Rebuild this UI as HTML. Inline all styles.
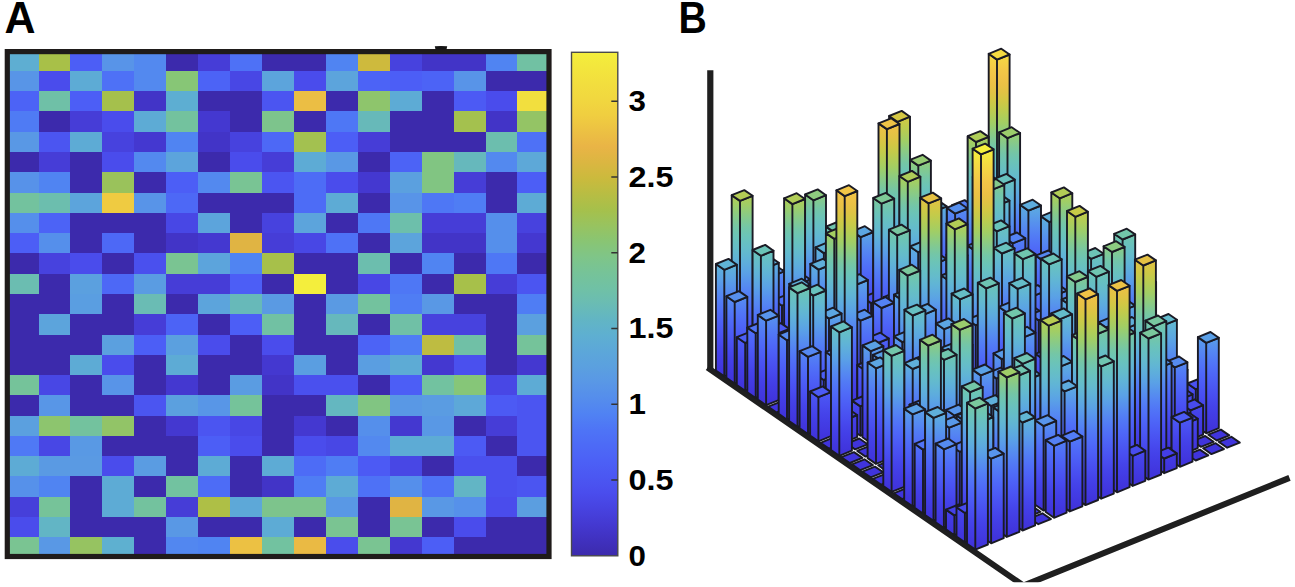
<!DOCTYPE html><html><head><meta charset="utf-8"><style>html,body{margin:0;padding:0;background:#fff;}body{width:1295px;height:587px;overflow:hidden;position:relative;font-family:"Liberation Sans",sans-serif;}svg{position:absolute;left:0;top:0;}.lab{font-family:"Liberation Sans",sans-serif;font-weight:bold;}</style></head><body><svg width="1295" height="587" viewBox="0 0 1295 587"><defs><linearGradient id="cb" x1="0" y1="1" x2="0" y2="0"><stop offset="0.0000" stop-color="#3c2aac"/><stop offset="0.0312" stop-color="#4031bf"/><stop offset="0.0625" stop-color="#4439d1"/><stop offset="0.0938" stop-color="#4743e0"/><stop offset="0.1250" stop-color="#4a4ded"/><stop offset="0.1562" stop-color="#4b57f2"/><stop offset="0.1875" stop-color="#4c60f6"/><stop offset="0.2188" stop-color="#4d6af6"/><stop offset="0.2500" stop-color="#4e74f6"/><stop offset="0.2812" stop-color="#5082f3"/><stop offset="0.3125" stop-color="#558dec"/><stop offset="0.3438" stop-color="#5997e6"/><stop offset="0.3750" stop-color="#5ba0df"/><stop offset="0.4062" stop-color="#5ca7d9"/><stop offset="0.4375" stop-color="#5eafd1"/><stop offset="0.4688" stop-color="#62b5c4"/><stop offset="0.5000" stop-color="#6abcb4"/><stop offset="0.5312" stop-color="#70c1a5"/><stop offset="0.5625" stop-color="#76c398"/><stop offset="0.5938" stop-color="#7fc588"/><stop offset="0.6250" stop-color="#89c573"/><stop offset="0.6562" stop-color="#98c35f"/><stop offset="0.6875" stop-color="#a6c04b"/><stop offset="0.7188" stop-color="#b8bd43"/><stop offset="0.7500" stop-color="#cbba3d"/><stop offset="0.7812" stop-color="#dbb641"/><stop offset="0.8125" stop-color="#e9b446"/><stop offset="0.8438" stop-color="#ecc143"/><stop offset="0.8750" stop-color="#f0ce40"/><stop offset="0.9062" stop-color="#f1d73f"/><stop offset="0.9375" stop-color="#f2de3e"/><stop offset="0.9688" stop-color="#f3e63d"/><stop offset="1.0000" stop-color="#f4ee3c"/></linearGradient><linearGradient id="pm" gradientUnits="userSpaceOnUse" x1="0" y1="0" x2="0" y2="-1"><stop offset="0.0000" stop-color="#4034dc"/><stop offset="0.0312" stop-color="#4239e1"/><stop offset="0.0625" stop-color="#433ee6"/><stop offset="0.0938" stop-color="#4544ea"/><stop offset="0.1250" stop-color="#484cef"/><stop offset="0.1562" stop-color="#4a54f2"/><stop offset="0.1875" stop-color="#4c5df5"/><stop offset="0.2188" stop-color="#4e66f7"/><stop offset="0.2500" stop-color="#5070f7"/><stop offset="0.2812" stop-color="#527bf5"/><stop offset="0.3125" stop-color="#5587f2"/><stop offset="0.3438" stop-color="#5794ec"/><stop offset="0.3750" stop-color="#5aa1e6"/><stop offset="0.4062" stop-color="#5dabde"/><stop offset="0.4375" stop-color="#60b4d6"/><stop offset="0.4688" stop-color="#64bbcc"/><stop offset="0.5000" stop-color="#67c0c2"/><stop offset="0.5312" stop-color="#6cc4b6"/><stop offset="0.5625" stop-color="#74c6a7"/><stop offset="0.5938" stop-color="#81c992"/><stop offset="0.6250" stop-color="#90cc7c"/><stop offset="0.6562" stop-color="#a1ce65"/><stop offset="0.6875" stop-color="#b1cd57"/><stop offset="0.7188" stop-color="#c2cb4b"/><stop offset="0.7500" stop-color="#d2c844"/><stop offset="0.7812" stop-color="#e0c344"/><stop offset="0.8125" stop-color="#eac145"/><stop offset="0.8438" stop-color="#f0c347"/><stop offset="0.8750" stop-color="#f3c847"/><stop offset="0.9062" stop-color="#f4d145"/><stop offset="0.9375" stop-color="#f4da42"/><stop offset="0.9688" stop-color="#f5e53f"/><stop offset="1.0000" stop-color="#f6f03c"/></linearGradient></defs><text class="lab" x="4.6" y="33.2" font-size="44.5" textLength="31" lengthAdjust="spacingAndGlyphs">A</text><text class="lab" x="678.6" y="33.2" font-size="44.5" textLength="28.3" lengthAdjust="spacingAndGlyphs">B</text><g shape-rendering="crispEdges"><rect x="6.60" y="50.60" width="32.53" height="20.88" fill="#5eaed2"/><rect x="38.53" y="50.60" width="32.53" height="20.88" fill="#a8c048"/><rect x="70.46" y="50.60" width="32.53" height="20.88" fill="#4c5ef6"/><rect x="102.39" y="50.60" width="32.53" height="20.88" fill="#5894e8"/><rect x="134.32" y="50.60" width="32.53" height="20.88" fill="#5389ef"/><rect x="166.25" y="50.60" width="32.53" height="20.88" fill="#3c2aac"/><rect x="198.18" y="50.60" width="32.53" height="20.88" fill="#463dd7"/><rect x="230.11" y="50.60" width="32.53" height="20.88" fill="#4e71f6"/><rect x="262.04" y="50.60" width="32.53" height="20.88" fill="#3c2aac"/><rect x="293.97" y="50.60" width="32.53" height="20.88" fill="#3c2aac"/><rect x="325.90" y="50.60" width="32.53" height="20.88" fill="#5084f2"/><rect x="357.83" y="50.60" width="32.53" height="20.88" fill="#ceba3d"/><rect x="389.76" y="50.60" width="32.53" height="20.88" fill="#4742de"/><rect x="421.69" y="50.60" width="32.53" height="20.88" fill="#4234c7"/><rect x="453.62" y="50.60" width="32.53" height="20.88" fill="#4234c7"/><rect x="485.55" y="50.60" width="32.53" height="20.88" fill="#5084f2"/><rect x="517.48" y="50.60" width="32.53" height="20.88" fill="#71c1a3"/><rect x="6.60" y="70.88" width="32.53" height="20.88" fill="#5895e7"/><rect x="38.53" y="70.88" width="32.53" height="20.88" fill="#4a4cec"/><rect x="70.46" y="70.88" width="32.53" height="20.88" fill="#5dabd5"/><rect x="102.39" y="70.88" width="32.53" height="20.88" fill="#4e71f6"/><rect x="134.32" y="70.88" width="32.53" height="20.88" fill="#5389ef"/><rect x="166.25" y="70.88" width="32.53" height="20.88" fill="#87c676"/><rect x="198.18" y="70.88" width="32.53" height="20.88" fill="#4c63f6"/><rect x="230.11" y="70.88" width="32.53" height="20.88" fill="#4847e5"/><rect x="262.04" y="70.88" width="32.53" height="20.88" fill="#5ca4dc"/><rect x="293.97" y="70.88" width="32.53" height="20.88" fill="#4a4cec"/><rect x="325.90" y="70.88" width="32.53" height="20.88" fill="#5ca4dc"/><rect x="357.83" y="70.88" width="32.53" height="20.88" fill="#4c63f6"/><rect x="389.76" y="70.88" width="32.53" height="20.88" fill="#4c5ef6"/><rect x="421.69" y="70.88" width="32.53" height="20.88" fill="#4c63f6"/><rect x="453.62" y="70.88" width="32.53" height="20.88" fill="#5894e8"/><rect x="485.55" y="70.88" width="32.53" height="20.88" fill="#3c2aac"/><rect x="517.48" y="70.88" width="32.53" height="20.88" fill="#3c2aac"/><rect x="6.60" y="91.16" width="32.53" height="20.88" fill="#4c63f6"/><rect x="38.53" y="91.16" width="32.53" height="20.88" fill="#6fc0a7"/><rect x="70.46" y="91.16" width="32.53" height="20.88" fill="#4c5ef6"/><rect x="102.39" y="91.16" width="32.53" height="20.88" fill="#a5c04c"/><rect x="134.32" y="91.16" width="32.53" height="20.88" fill="#4234c7"/><rect x="166.25" y="91.16" width="32.53" height="20.88" fill="#5daed2"/><rect x="198.18" y="91.16" width="32.53" height="20.88" fill="#3c2aac"/><rect x="230.11" y="91.16" width="32.53" height="20.88" fill="#3c2aac"/><rect x="262.04" y="91.16" width="32.53" height="20.88" fill="#4b55f1"/><rect x="293.97" y="91.16" width="32.53" height="20.88" fill="#ebbe44"/><rect x="325.90" y="91.16" width="32.53" height="20.88" fill="#3c2aac"/><rect x="357.83" y="91.16" width="32.53" height="20.88" fill="#8ec56c"/><rect x="389.76" y="91.16" width="32.53" height="20.88" fill="#5dabd5"/><rect x="421.69" y="91.16" width="32.53" height="20.88" fill="#3c2aac"/><rect x="453.62" y="91.16" width="32.53" height="20.88" fill="#4c5af4"/><rect x="485.55" y="91.16" width="32.53" height="20.88" fill="#4a4cec"/><rect x="517.48" y="91.16" width="32.53" height="20.88" fill="#f2df3e"/><rect x="6.60" y="111.44" width="32.53" height="20.88" fill="#4f7bf4"/><rect x="38.53" y="111.44" width="32.53" height="20.88" fill="#3c2aac"/><rect x="70.46" y="111.44" width="32.53" height="20.88" fill="#463dd7"/><rect x="102.39" y="111.44" width="32.53" height="20.88" fill="#4a4cec"/><rect x="134.32" y="111.44" width="32.53" height="20.88" fill="#5dabd5"/><rect x="166.25" y="111.44" width="32.53" height="20.88" fill="#73c29e"/><rect x="198.18" y="111.44" width="32.53" height="20.88" fill="#4438d0"/><rect x="230.11" y="111.44" width="32.53" height="20.88" fill="#3c2aac"/><rect x="262.04" y="111.44" width="32.53" height="20.88" fill="#7dc48c"/><rect x="293.97" y="111.44" width="32.53" height="20.88" fill="#3c2aac"/><rect x="325.90" y="111.44" width="32.53" height="20.88" fill="#4e77f5"/><rect x="357.83" y="111.44" width="32.53" height="20.88" fill="#67b9b9"/><rect x="389.76" y="111.44" width="32.53" height="20.88" fill="#3c2aac"/><rect x="421.69" y="111.44" width="32.53" height="20.88" fill="#3c2aac"/><rect x="453.62" y="111.44" width="32.53" height="20.88" fill="#a4c14e"/><rect x="485.55" y="111.44" width="32.53" height="20.88" fill="#4234c7"/><rect x="517.48" y="111.44" width="32.53" height="20.88" fill="#94c465"/><rect x="6.60" y="131.72" width="32.53" height="20.88" fill="#5998e5"/><rect x="38.53" y="131.72" width="32.53" height="20.88" fill="#4b55f1"/><rect x="70.46" y="131.72" width="32.53" height="20.88" fill="#5dabd5"/><rect x="102.39" y="131.72" width="32.53" height="20.88" fill="#4742de"/><rect x="134.32" y="131.72" width="32.53" height="20.88" fill="#4438d0"/><rect x="166.25" y="131.72" width="32.53" height="20.88" fill="#5084f2"/><rect x="198.18" y="131.72" width="32.53" height="20.88" fill="#4234c7"/><rect x="230.11" y="131.72" width="32.53" height="20.88" fill="#4742de"/><rect x="262.04" y="131.72" width="32.53" height="20.88" fill="#4d68f6"/><rect x="293.97" y="131.72" width="32.53" height="20.88" fill="#a3c150"/><rect x="325.90" y="131.72" width="32.53" height="20.88" fill="#4c5ef6"/><rect x="357.83" y="131.72" width="32.53" height="20.88" fill="#463dd7"/><rect x="389.76" y="131.72" width="32.53" height="20.88" fill="#3c2aac"/><rect x="421.69" y="131.72" width="32.53" height="20.88" fill="#3c2aac"/><rect x="453.62" y="131.72" width="32.53" height="20.88" fill="#3c2aac"/><rect x="485.55" y="131.72" width="32.53" height="20.88" fill="#6cbeae"/><rect x="517.48" y="131.72" width="32.53" height="20.88" fill="#4e71f6"/><rect x="6.60" y="152.00" width="32.53" height="20.88" fill="#3c2aac"/><rect x="38.53" y="152.00" width="32.53" height="20.88" fill="#463dd7"/><rect x="70.46" y="152.00" width="32.53" height="20.88" fill="#3c2aac"/><rect x="102.39" y="152.00" width="32.53" height="20.88" fill="#4a4cec"/><rect x="134.32" y="152.00" width="32.53" height="20.88" fill="#5389ef"/><rect x="166.25" y="152.00" width="32.53" height="20.88" fill="#5ca4dc"/><rect x="198.18" y="152.00" width="32.53" height="20.88" fill="#3c2aac"/><rect x="230.11" y="152.00" width="32.53" height="20.88" fill="#4a4cec"/><rect x="262.04" y="152.00" width="32.53" height="20.88" fill="#463dd7"/><rect x="293.97" y="152.00" width="32.53" height="20.88" fill="#5dabd5"/><rect x="325.90" y="152.00" width="32.53" height="20.88" fill="#5998e5"/><rect x="357.83" y="152.00" width="32.53" height="20.88" fill="#3c2aac"/><rect x="389.76" y="152.00" width="32.53" height="20.88" fill="#4c63f6"/><rect x="421.69" y="152.00" width="32.53" height="20.88" fill="#81c582"/><rect x="453.62" y="152.00" width="32.53" height="20.88" fill="#66b8bc"/><rect x="485.55" y="152.00" width="32.53" height="20.88" fill="#5389ef"/><rect x="517.48" y="152.00" width="32.53" height="20.88" fill="#5da8d8"/><rect x="6.60" y="172.28" width="32.53" height="20.88" fill="#5792e9"/><rect x="38.53" y="172.28" width="32.53" height="20.88" fill="#5084f2"/><rect x="70.46" y="172.28" width="32.53" height="20.88" fill="#3c2aac"/><rect x="102.39" y="172.28" width="32.53" height="20.88" fill="#9ac25b"/><rect x="134.32" y="172.28" width="32.53" height="20.88" fill="#3c2aac"/><rect x="166.25" y="172.28" width="32.53" height="20.88" fill="#4c5ef6"/><rect x="198.18" y="172.28" width="32.53" height="20.88" fill="#5389ef"/><rect x="230.11" y="172.28" width="32.53" height="20.88" fill="#79c494"/><rect x="262.04" y="172.28" width="32.53" height="20.88" fill="#4b55f1"/><rect x="293.97" y="172.28" width="32.53" height="20.88" fill="#4d6cf6"/><rect x="325.90" y="172.28" width="32.53" height="20.88" fill="#4a4cec"/><rect x="357.83" y="172.28" width="32.53" height="20.88" fill="#4438d0"/><rect x="389.76" y="172.28" width="32.53" height="20.88" fill="#5ba0df"/><rect x="421.69" y="172.28" width="32.53" height="20.88" fill="#81c582"/><rect x="453.62" y="172.28" width="32.53" height="20.88" fill="#463dd7"/><rect x="485.55" y="172.28" width="32.53" height="20.88" fill="#3c2aac"/><rect x="517.48" y="172.28" width="32.53" height="20.88" fill="#4c5ef6"/><rect x="6.60" y="192.56" width="32.53" height="20.88" fill="#73c29e"/><rect x="38.53" y="192.56" width="32.53" height="20.88" fill="#6cbeae"/><rect x="70.46" y="192.56" width="32.53" height="20.88" fill="#5ca4dc"/><rect x="102.39" y="192.56" width="32.53" height="20.88" fill="#efcb41"/><rect x="134.32" y="192.56" width="32.53" height="20.88" fill="#5894e8"/><rect x="166.25" y="192.56" width="32.53" height="20.88" fill="#4d68f6"/><rect x="198.18" y="192.56" width="32.53" height="20.88" fill="#3c2aac"/><rect x="230.11" y="192.56" width="32.53" height="20.88" fill="#3c2aac"/><rect x="262.04" y="192.56" width="32.53" height="20.88" fill="#3c2aac"/><rect x="293.97" y="192.56" width="32.53" height="20.88" fill="#4d6cf6"/><rect x="325.90" y="192.56" width="32.53" height="20.88" fill="#5dabd5"/><rect x="357.83" y="192.56" width="32.53" height="20.88" fill="#3c2aac"/><rect x="389.76" y="192.56" width="32.53" height="20.88" fill="#5894e8"/><rect x="421.69" y="192.56" width="32.53" height="20.88" fill="#4e77f5"/><rect x="453.62" y="192.56" width="32.53" height="20.88" fill="#4f7df4"/><rect x="485.55" y="192.56" width="32.53" height="20.88" fill="#3c2aac"/><rect x="517.48" y="192.56" width="32.53" height="20.88" fill="#5dabd5"/><rect x="6.60" y="212.84" width="32.53" height="20.88" fill="#558feb"/><rect x="38.53" y="212.84" width="32.53" height="20.88" fill="#4c63f6"/><rect x="70.46" y="212.84" width="32.53" height="20.88" fill="#3c2aac"/><rect x="102.39" y="212.84" width="32.53" height="20.88" fill="#3c2aac"/><rect x="134.32" y="212.84" width="32.53" height="20.88" fill="#3c2aac"/><rect x="166.25" y="212.84" width="32.53" height="20.88" fill="#4847e5"/><rect x="198.18" y="212.84" width="32.53" height="20.88" fill="#5ca4dc"/><rect x="230.11" y="212.84" width="32.53" height="20.88" fill="#3c2aac"/><rect x="262.04" y="212.84" width="32.53" height="20.88" fill="#4742de"/><rect x="293.97" y="212.84" width="32.53" height="20.88" fill="#5ca4dc"/><rect x="325.90" y="212.84" width="32.53" height="20.88" fill="#3c2aac"/><rect x="357.83" y="212.84" width="32.53" height="20.88" fill="#4e77f5"/><rect x="389.76" y="212.84" width="32.53" height="20.88" fill="#6dbfab"/><rect x="421.69" y="212.84" width="32.53" height="20.88" fill="#463dd7"/><rect x="453.62" y="212.84" width="32.53" height="20.88" fill="#463dd7"/><rect x="485.55" y="212.84" width="32.53" height="20.88" fill="#558feb"/><rect x="517.48" y="212.84" width="32.53" height="20.88" fill="#4742de"/><rect x="6.60" y="233.12" width="32.53" height="20.88" fill="#4c5ef6"/><rect x="38.53" y="233.12" width="32.53" height="20.88" fill="#558feb"/><rect x="70.46" y="233.12" width="32.53" height="20.88" fill="#3c2aac"/><rect x="102.39" y="233.12" width="32.53" height="20.88" fill="#4d68f6"/><rect x="134.32" y="233.12" width="32.53" height="20.88" fill="#3c2aac"/><rect x="166.25" y="233.12" width="32.53" height="20.88" fill="#4234c7"/><rect x="198.18" y="233.12" width="32.53" height="20.88" fill="#4438d0"/><rect x="230.11" y="233.12" width="32.53" height="20.88" fill="#e0b443"/><rect x="262.04" y="233.12" width="32.53" height="20.88" fill="#463dd7"/><rect x="293.97" y="233.12" width="32.53" height="20.88" fill="#4847e5"/><rect x="325.90" y="233.12" width="32.53" height="20.88" fill="#4e71f6"/><rect x="357.83" y="233.12" width="32.53" height="20.88" fill="#3c2aac"/><rect x="389.76" y="233.12" width="32.53" height="20.88" fill="#5ca4dc"/><rect x="421.69" y="233.12" width="32.53" height="20.88" fill="#4234c7"/><rect x="453.62" y="233.12" width="32.53" height="20.88" fill="#4234c7"/><rect x="485.55" y="233.12" width="32.53" height="20.88" fill="#558feb"/><rect x="517.48" y="233.12" width="32.53" height="20.88" fill="#4438d0"/><rect x="6.60" y="253.40" width="32.53" height="20.88" fill="#3c2aac"/><rect x="38.53" y="253.40" width="32.53" height="20.88" fill="#4742de"/><rect x="70.46" y="253.40" width="32.53" height="20.88" fill="#4a4cec"/><rect x="102.39" y="253.40" width="32.53" height="20.88" fill="#3c2aac"/><rect x="134.32" y="253.40" width="32.53" height="20.88" fill="#4a50ee"/><rect x="166.25" y="253.40" width="32.53" height="20.88" fill="#7ac492"/><rect x="198.18" y="253.40" width="32.53" height="20.88" fill="#5ca4dc"/><rect x="230.11" y="253.40" width="32.53" height="20.88" fill="#5084f2"/><rect x="262.04" y="253.40" width="32.53" height="20.88" fill="#a7c04a"/><rect x="293.97" y="253.40" width="32.53" height="20.88" fill="#3c2aac"/><rect x="325.90" y="253.40" width="32.53" height="20.88" fill="#3c2aac"/><rect x="357.83" y="253.40" width="32.53" height="20.88" fill="#6cbeae"/><rect x="389.76" y="253.40" width="32.53" height="20.88" fill="#3c2aac"/><rect x="421.69" y="253.40" width="32.53" height="20.88" fill="#5084f2"/><rect x="453.62" y="253.40" width="32.53" height="20.88" fill="#3c2aac"/><rect x="485.55" y="253.40" width="32.53" height="20.88" fill="#4e77f5"/><rect x="517.48" y="253.40" width="32.53" height="20.88" fill="#3c2aac"/><rect x="6.60" y="273.68" width="32.53" height="20.88" fill="#6bbdb1"/><rect x="38.53" y="273.68" width="32.53" height="20.88" fill="#3c2aac"/><rect x="70.46" y="273.68" width="32.53" height="20.88" fill="#5ba0df"/><rect x="102.39" y="273.68" width="32.53" height="20.88" fill="#4d68f6"/><rect x="134.32" y="273.68" width="32.53" height="20.88" fill="#5a9ce2"/><rect x="166.25" y="273.68" width="32.53" height="20.88" fill="#463dd7"/><rect x="198.18" y="273.68" width="32.53" height="20.88" fill="#463dd7"/><rect x="230.11" y="273.68" width="32.53" height="20.88" fill="#4c5ef6"/><rect x="262.04" y="273.68" width="32.53" height="20.88" fill="#3c2aac"/><rect x="293.97" y="273.68" width="32.53" height="20.88" fill="#f4ee3c"/><rect x="325.90" y="273.68" width="32.53" height="20.88" fill="#3c2aac"/><rect x="357.83" y="273.68" width="32.53" height="20.88" fill="#4847e5"/><rect x="389.76" y="273.68" width="32.53" height="20.88" fill="#4e77f5"/><rect x="421.69" y="273.68" width="32.53" height="20.88" fill="#3c2aac"/><rect x="453.62" y="273.68" width="32.53" height="20.88" fill="#a7c04a"/><rect x="485.55" y="273.68" width="32.53" height="20.88" fill="#463dd7"/><rect x="517.48" y="273.68" width="32.53" height="20.88" fill="#4b55f1"/><rect x="6.60" y="293.96" width="32.53" height="20.88" fill="#3c2aac"/><rect x="38.53" y="293.96" width="32.53" height="20.88" fill="#3c2aac"/><rect x="70.46" y="293.96" width="32.53" height="20.88" fill="#5a9ee1"/><rect x="102.39" y="293.96" width="32.53" height="20.88" fill="#3c2aac"/><rect x="134.32" y="293.96" width="32.53" height="20.88" fill="#6abcb4"/><rect x="166.25" y="293.96" width="32.53" height="20.88" fill="#3c2aac"/><rect x="198.18" y="293.96" width="32.53" height="20.88" fill="#5ca4dc"/><rect x="230.11" y="293.96" width="32.53" height="20.88" fill="#67b9b9"/><rect x="262.04" y="293.96" width="32.53" height="20.88" fill="#5a9ae3"/><rect x="293.97" y="293.96" width="32.53" height="20.88" fill="#3c2aac"/><rect x="325.90" y="293.96" width="32.53" height="20.88" fill="#5a9ae3"/><rect x="357.83" y="293.96" width="32.53" height="20.88" fill="#73c29e"/><rect x="389.76" y="293.96" width="32.53" height="20.88" fill="#4f7df4"/><rect x="421.69" y="293.96" width="32.53" height="20.88" fill="#5998e5"/><rect x="453.62" y="293.96" width="32.53" height="20.88" fill="#3c2aac"/><rect x="485.55" y="293.96" width="32.53" height="20.88" fill="#3c2aac"/><rect x="517.48" y="293.96" width="32.53" height="20.88" fill="#4f7df4"/><rect x="6.60" y="314.24" width="32.53" height="20.88" fill="#3c2aac"/><rect x="38.53" y="314.24" width="32.53" height="20.88" fill="#5ca4dc"/><rect x="70.46" y="314.24" width="32.53" height="20.88" fill="#3c2aac"/><rect x="102.39" y="314.24" width="32.53" height="20.88" fill="#3c2aac"/><rect x="134.32" y="314.24" width="32.53" height="20.88" fill="#463dd7"/><rect x="166.25" y="314.24" width="32.53" height="20.88" fill="#4c63f6"/><rect x="198.18" y="314.24" width="32.53" height="20.88" fill="#3c2aac"/><rect x="230.11" y="314.24" width="32.53" height="20.88" fill="#4c5ef6"/><rect x="262.04" y="314.24" width="32.53" height="20.88" fill="#71c1a3"/><rect x="293.97" y="314.24" width="32.53" height="20.88" fill="#3c2aac"/><rect x="325.90" y="314.24" width="32.53" height="20.88" fill="#66b8bc"/><rect x="357.83" y="314.24" width="32.53" height="20.88" fill="#3c2aac"/><rect x="389.76" y="314.24" width="32.53" height="20.88" fill="#70c0a6"/><rect x="421.69" y="314.24" width="32.53" height="20.88" fill="#4742de"/><rect x="453.62" y="314.24" width="32.53" height="20.88" fill="#4742de"/><rect x="485.55" y="314.24" width="32.53" height="20.88" fill="#3c2aac"/><rect x="517.48" y="314.24" width="32.53" height="20.88" fill="#5ba0df"/><rect x="6.60" y="334.52" width="32.53" height="20.88" fill="#3c2aac"/><rect x="38.53" y="334.52" width="32.53" height="20.88" fill="#3c2aac"/><rect x="70.46" y="334.52" width="32.53" height="20.88" fill="#3c2aac"/><rect x="102.39" y="334.52" width="32.53" height="20.88" fill="#5ba0df"/><rect x="134.32" y="334.52" width="32.53" height="20.88" fill="#4c5ef6"/><rect x="166.25" y="334.52" width="32.53" height="20.88" fill="#5ba0df"/><rect x="198.18" y="334.52" width="32.53" height="20.88" fill="#4a4cec"/><rect x="230.11" y="334.52" width="32.53" height="20.88" fill="#3c2aac"/><rect x="262.04" y="334.52" width="32.53" height="20.88" fill="#4a4cec"/><rect x="293.97" y="334.52" width="32.53" height="20.88" fill="#3c2aac"/><rect x="325.90" y="334.52" width="32.53" height="20.88" fill="#3c2aac"/><rect x="357.83" y="334.52" width="32.53" height="20.88" fill="#4c63f6"/><rect x="389.76" y="334.52" width="32.53" height="20.88" fill="#4f7df4"/><rect x="421.69" y="334.52" width="32.53" height="20.88" fill="#bebc41"/><rect x="453.62" y="334.52" width="32.53" height="20.88" fill="#70c0a6"/><rect x="485.55" y="334.52" width="32.53" height="20.88" fill="#3c2aac"/><rect x="517.48" y="334.52" width="32.53" height="20.88" fill="#75c39a"/><rect x="6.60" y="354.80" width="32.53" height="20.88" fill="#3c2aac"/><rect x="38.53" y="354.80" width="32.53" height="20.88" fill="#3c2aac"/><rect x="70.46" y="354.80" width="32.53" height="20.88" fill="#5dabd5"/><rect x="102.39" y="354.80" width="32.53" height="20.88" fill="#4a4cec"/><rect x="134.32" y="354.80" width="32.53" height="20.88" fill="#3c2aac"/><rect x="166.25" y="354.80" width="32.53" height="20.88" fill="#5dabd5"/><rect x="198.18" y="354.80" width="32.53" height="20.88" fill="#3c2aac"/><rect x="230.11" y="354.80" width="32.53" height="20.88" fill="#3c2aac"/><rect x="262.04" y="354.80" width="32.53" height="20.88" fill="#4438d0"/><rect x="293.97" y="354.80" width="32.53" height="20.88" fill="#5a9ee1"/><rect x="325.90" y="354.80" width="32.53" height="20.88" fill="#3c2aac"/><rect x="357.83" y="354.80" width="32.53" height="20.88" fill="#5a9ee1"/><rect x="389.76" y="354.80" width="32.53" height="20.88" fill="#5dabd5"/><rect x="421.69" y="354.80" width="32.53" height="20.88" fill="#4438d0"/><rect x="453.62" y="354.80" width="32.53" height="20.88" fill="#4a50ee"/><rect x="485.55" y="354.80" width="32.53" height="20.88" fill="#3c2aac"/><rect x="517.48" y="354.80" width="32.53" height="20.88" fill="#4438d0"/><rect x="6.60" y="375.08" width="32.53" height="20.88" fill="#75c39a"/><rect x="38.53" y="375.08" width="32.53" height="20.88" fill="#4847e5"/><rect x="70.46" y="375.08" width="32.53" height="20.88" fill="#3c2aac"/><rect x="102.39" y="375.08" width="32.53" height="20.88" fill="#5894e8"/><rect x="134.32" y="375.08" width="32.53" height="20.88" fill="#3c2aac"/><rect x="166.25" y="375.08" width="32.53" height="20.88" fill="#4438d0"/><rect x="198.18" y="375.08" width="32.53" height="20.88" fill="#3c2aac"/><rect x="230.11" y="375.08" width="32.53" height="20.88" fill="#5a9ce2"/><rect x="262.04" y="375.08" width="32.53" height="20.88" fill="#4234c7"/><rect x="293.97" y="375.08" width="32.53" height="20.88" fill="#4a50ee"/><rect x="325.90" y="375.08" width="32.53" height="20.88" fill="#4a50ee"/><rect x="357.83" y="375.08" width="32.53" height="20.88" fill="#3c2aac"/><rect x="389.76" y="375.08" width="32.53" height="20.88" fill="#4c5ef6"/><rect x="421.69" y="375.08" width="32.53" height="20.88" fill="#72c2a0"/><rect x="453.62" y="375.08" width="32.53" height="20.88" fill="#86c678"/><rect x="485.55" y="375.08" width="32.53" height="20.88" fill="#4847e5"/><rect x="517.48" y="375.08" width="32.53" height="20.88" fill="#5dabd5"/><rect x="6.60" y="395.36" width="32.53" height="20.88" fill="#3c2aac"/><rect x="38.53" y="395.36" width="32.53" height="20.88" fill="#5896e7"/><rect x="70.46" y="395.36" width="32.53" height="20.88" fill="#3c2aac"/><rect x="102.39" y="395.36" width="32.53" height="20.88" fill="#3c2aac"/><rect x="134.32" y="395.36" width="32.53" height="20.88" fill="#4b55f1"/><rect x="166.25" y="395.36" width="32.53" height="20.88" fill="#5ba0df"/><rect x="198.18" y="395.36" width="32.53" height="20.88" fill="#5896e7"/><rect x="230.11" y="395.36" width="32.53" height="20.88" fill="#75c39a"/><rect x="262.04" y="395.36" width="32.53" height="20.88" fill="#3c2aac"/><rect x="293.97" y="395.36" width="32.53" height="20.88" fill="#3c2aac"/><rect x="325.90" y="395.36" width="32.53" height="20.88" fill="#64b7c0"/><rect x="357.83" y="395.36" width="32.53" height="20.88" fill="#81c582"/><rect x="389.76" y="395.36" width="32.53" height="20.88" fill="#5998e5"/><rect x="421.69" y="395.36" width="32.53" height="20.88" fill="#5a9ce2"/><rect x="453.62" y="395.36" width="32.53" height="20.88" fill="#5da8d8"/><rect x="485.55" y="395.36" width="32.53" height="20.88" fill="#4c5af4"/><rect x="517.48" y="395.36" width="32.53" height="20.88" fill="#4b55f1"/><rect x="6.60" y="415.64" width="32.53" height="20.88" fill="#5ba0df"/><rect x="38.53" y="415.64" width="32.53" height="20.88" fill="#8dc56e"/><rect x="70.46" y="415.64" width="32.53" height="20.88" fill="#73c29e"/><rect x="102.39" y="415.64" width="32.53" height="20.88" fill="#92c467"/><rect x="134.32" y="415.64" width="32.53" height="20.88" fill="#3c2aac"/><rect x="166.25" y="415.64" width="32.53" height="20.88" fill="#4438d0"/><rect x="198.18" y="415.64" width="32.53" height="20.88" fill="#4b55f1"/><rect x="230.11" y="415.64" width="32.53" height="20.88" fill="#4847e5"/><rect x="262.04" y="415.64" width="32.53" height="20.88" fill="#3c2aac"/><rect x="293.97" y="415.64" width="32.53" height="20.88" fill="#4438d0"/><rect x="325.90" y="415.64" width="32.53" height="20.88" fill="#3c2aac"/><rect x="357.83" y="415.64" width="32.53" height="20.88" fill="#558feb"/><rect x="389.76" y="415.64" width="32.53" height="20.88" fill="#4438d0"/><rect x="421.69" y="415.64" width="32.53" height="20.88" fill="#5998e5"/><rect x="453.62" y="415.64" width="32.53" height="20.88" fill="#3c2aac"/><rect x="485.55" y="415.64" width="32.53" height="20.88" fill="#463dd7"/><rect x="517.48" y="415.64" width="32.53" height="20.88" fill="#4b55f1"/><rect x="6.60" y="435.92" width="32.53" height="20.88" fill="#4f79f5"/><rect x="38.53" y="435.92" width="32.53" height="20.88" fill="#4847e5"/><rect x="70.46" y="435.92" width="32.53" height="20.88" fill="#5999e4"/><rect x="102.39" y="435.92" width="32.53" height="20.88" fill="#3c2aac"/><rect x="134.32" y="435.92" width="32.53" height="20.88" fill="#3c2aac"/><rect x="166.25" y="435.92" width="32.53" height="20.88" fill="#3c2aac"/><rect x="198.18" y="435.92" width="32.53" height="20.88" fill="#4c5ef6"/><rect x="230.11" y="435.92" width="32.53" height="20.88" fill="#4a4cec"/><rect x="262.04" y="435.92" width="32.53" height="20.88" fill="#3c2aac"/><rect x="293.97" y="435.92" width="32.53" height="20.88" fill="#4a4cec"/><rect x="325.90" y="435.92" width="32.53" height="20.88" fill="#4847e5"/><rect x="357.83" y="435.92" width="32.53" height="20.88" fill="#5389ef"/><rect x="389.76" y="435.92" width="32.53" height="20.88" fill="#5dabd5"/><rect x="421.69" y="435.92" width="32.53" height="20.88" fill="#5dabd5"/><rect x="453.62" y="435.92" width="32.53" height="20.88" fill="#4c5af4"/><rect x="485.55" y="435.92" width="32.53" height="20.88" fill="#3c2aac"/><rect x="517.48" y="435.92" width="32.53" height="20.88" fill="#4b55f1"/><rect x="6.60" y="456.20" width="32.53" height="20.88" fill="#5dabd5"/><rect x="38.53" y="456.20" width="32.53" height="20.88" fill="#5a9ae3"/><rect x="70.46" y="456.20" width="32.53" height="20.88" fill="#5a9ae3"/><rect x="102.39" y="456.20" width="32.53" height="20.88" fill="#4a4cec"/><rect x="134.32" y="456.20" width="32.53" height="20.88" fill="#5a9ce2"/><rect x="166.25" y="456.20" width="32.53" height="20.88" fill="#3c2aac"/><rect x="198.18" y="456.20" width="32.53" height="20.88" fill="#5dabd5"/><rect x="230.11" y="456.20" width="32.53" height="20.88" fill="#3c2aac"/><rect x="262.04" y="456.20" width="32.53" height="20.88" fill="#5dabd5"/><rect x="293.97" y="456.20" width="32.53" height="20.88" fill="#4d6cf6"/><rect x="325.90" y="456.20" width="32.53" height="20.88" fill="#4f7df4"/><rect x="357.83" y="456.20" width="32.53" height="20.88" fill="#4c5af4"/><rect x="389.76" y="456.20" width="32.53" height="20.88" fill="#4847e5"/><rect x="421.69" y="456.20" width="32.53" height="20.88" fill="#3c2aac"/><rect x="453.62" y="456.20" width="32.53" height="20.88" fill="#4a50ee"/><rect x="485.55" y="456.20" width="32.53" height="20.88" fill="#4a50ee"/><rect x="517.48" y="456.20" width="32.53" height="20.88" fill="#3c2aac"/><rect x="6.60" y="476.48" width="32.53" height="20.88" fill="#5691ea"/><rect x="38.53" y="476.48" width="32.53" height="20.88" fill="#5084f2"/><rect x="70.46" y="476.48" width="32.53" height="20.88" fill="#3c2aac"/><rect x="102.39" y="476.48" width="32.53" height="20.88" fill="#5dabd5"/><rect x="134.32" y="476.48" width="32.53" height="20.88" fill="#3c2aac"/><rect x="166.25" y="476.48" width="32.53" height="20.88" fill="#72c2a0"/><rect x="198.18" y="476.48" width="32.53" height="20.88" fill="#4d6cf6"/><rect x="230.11" y="476.48" width="32.53" height="20.88" fill="#3c2aac"/><rect x="262.04" y="476.48" width="32.53" height="20.88" fill="#4234c7"/><rect x="293.97" y="476.48" width="32.53" height="20.88" fill="#4f7df4"/><rect x="325.90" y="476.48" width="32.53" height="20.88" fill="#5dabd5"/><rect x="357.83" y="476.48" width="32.53" height="20.88" fill="#4e71f6"/><rect x="389.76" y="476.48" width="32.53" height="20.88" fill="#558feb"/><rect x="421.69" y="476.48" width="32.53" height="20.88" fill="#4e71f6"/><rect x="453.62" y="476.48" width="32.53" height="20.88" fill="#62b5c5"/><rect x="485.55" y="476.48" width="32.53" height="20.88" fill="#4a50ee"/><rect x="517.48" y="476.48" width="32.53" height="20.88" fill="#4b55f1"/><rect x="6.60" y="496.76" width="32.53" height="20.88" fill="#463fda"/><rect x="38.53" y="496.76" width="32.53" height="20.88" fill="#76c399"/><rect x="70.46" y="496.76" width="32.53" height="20.88" fill="#3c2aac"/><rect x="102.39" y="496.76" width="32.53" height="20.88" fill="#5dabd5"/><rect x="134.32" y="496.76" width="32.53" height="20.88" fill="#73c29e"/><rect x="166.25" y="496.76" width="32.53" height="20.88" fill="#463dd7"/><rect x="198.18" y="496.76" width="32.53" height="20.88" fill="#aebf46"/><rect x="230.11" y="496.76" width="32.53" height="20.88" fill="#5da8d8"/><rect x="262.04" y="496.76" width="32.53" height="20.88" fill="#7dc48c"/><rect x="293.97" y="496.76" width="32.53" height="20.88" fill="#7dc48c"/><rect x="325.90" y="496.76" width="32.53" height="20.88" fill="#5998e5"/><rect x="357.83" y="496.76" width="32.53" height="20.88" fill="#3c2aac"/><rect x="389.76" y="496.76" width="32.53" height="20.88" fill="#e0b443"/><rect x="421.69" y="496.76" width="32.53" height="20.88" fill="#5998e5"/><rect x="453.62" y="496.76" width="32.53" height="20.88" fill="#5691ea"/><rect x="485.55" y="496.76" width="32.53" height="20.88" fill="#4a4cec"/><rect x="517.48" y="496.76" width="32.53" height="20.88" fill="#5b9ee0"/><rect x="6.60" y="517.04" width="32.53" height="20.88" fill="#4a4cec"/><rect x="38.53" y="517.04" width="32.53" height="20.88" fill="#62b5c5"/><rect x="70.46" y="517.04" width="32.53" height="20.88" fill="#3c2aac"/><rect x="102.39" y="517.04" width="32.53" height="20.88" fill="#3c2aac"/><rect x="134.32" y="517.04" width="32.53" height="20.88" fill="#3c2aac"/><rect x="166.25" y="517.04" width="32.53" height="20.88" fill="#5998e5"/><rect x="198.18" y="517.04" width="32.53" height="20.88" fill="#3c2aac"/><rect x="230.11" y="517.04" width="32.53" height="20.88" fill="#3c2aac"/><rect x="262.04" y="517.04" width="32.53" height="20.88" fill="#5dabd5"/><rect x="293.97" y="517.04" width="32.53" height="20.88" fill="#3c2aac"/><rect x="325.90" y="517.04" width="32.53" height="20.88" fill="#7ac492"/><rect x="357.83" y="517.04" width="32.53" height="20.88" fill="#3c2aac"/><rect x="389.76" y="517.04" width="32.53" height="20.88" fill="#79c494"/><rect x="421.69" y="517.04" width="32.53" height="20.88" fill="#3c2aac"/><rect x="453.62" y="517.04" width="32.53" height="20.88" fill="#4a4cec"/><rect x="485.55" y="517.04" width="32.53" height="20.88" fill="#3c2aac"/><rect x="517.48" y="517.04" width="32.53" height="20.88" fill="#3c2aac"/><rect x="6.60" y="537.32" width="32.53" height="20.88" fill="#7ac492"/><rect x="38.53" y="537.32" width="32.53" height="20.88" fill="#5998e5"/><rect x="70.46" y="537.32" width="32.53" height="20.88" fill="#96c361"/><rect x="102.39" y="537.32" width="32.53" height="20.88" fill="#5eb0d0"/><rect x="134.32" y="537.32" width="32.53" height="20.88" fill="#3c2aac"/><rect x="166.25" y="537.32" width="32.53" height="20.88" fill="#5287f0"/><rect x="198.18" y="537.32" width="32.53" height="20.88" fill="#5084f2"/><rect x="230.11" y="537.32" width="32.53" height="20.88" fill="#ecc143"/><rect x="262.04" y="537.32" width="32.53" height="20.88" fill="#72c2a0"/><rect x="293.97" y="537.32" width="32.53" height="20.88" fill="#eaba44"/><rect x="325.90" y="537.32" width="32.53" height="20.88" fill="#4a4dec"/><rect x="357.83" y="537.32" width="32.53" height="20.88" fill="#7ac492"/><rect x="389.76" y="537.32" width="32.53" height="20.88" fill="#4438d0"/><rect x="421.69" y="537.32" width="32.53" height="20.88" fill="#4c5ef6"/><rect x="453.62" y="537.32" width="32.53" height="20.88" fill="#3c2aac"/><rect x="485.55" y="537.32" width="32.53" height="20.88" fill="#3c2aac"/><rect x="517.48" y="537.32" width="32.53" height="20.88" fill="#3c2aac"/></g><rect x="7.3" y="51.6" width="541.7" height="504.9" fill="none" stroke="#1f1b1a" stroke-width="5.2"/><path d="M434.8 46.3 Q441 45.6 447.2 46.3 L446.5 49.5 L435.5 49.5 Z" fill="#151515"/><rect x="571.5" y="52.3" width="46.299999999999955" height="503.49999999999994" fill="url(#cb)" stroke="#4a4a4a" stroke-width="1.4"/><path d="M611.3 480.0H617.8 M611.3 404.2H617.8 M611.3 328.5H617.8 M611.3 252.7H617.8 M611.3 177.0H617.8 M611.3 101.2H617.8" stroke="#333" stroke-width="1.5"/><text class="lab" x="628.6" y="565.6" font-size="29.7" textLength="17.4" lengthAdjust="spacingAndGlyphs">0</text><text class="lab" x="628.6" y="489.9" font-size="29.7" textLength="45" lengthAdjust="spacingAndGlyphs">0.5</text><text class="lab" x="628.6" y="414.1" font-size="29.7" textLength="17.4" lengthAdjust="spacingAndGlyphs">1</text><text class="lab" x="628.6" y="338.4" font-size="29.7" textLength="45" lengthAdjust="spacingAndGlyphs">1.5</text><text class="lab" x="628.6" y="262.6" font-size="29.7" textLength="17.4" lengthAdjust="spacingAndGlyphs">2</text><text class="lab" x="628.6" y="186.9" font-size="29.7" textLength="45" lengthAdjust="spacingAndGlyphs">2.5</text><text class="lab" x="628.6" y="111.1" font-size="29.7" textLength="17.4" lengthAdjust="spacingAndGlyphs">3</text><defs><linearGradient id="g0" href="#pm" x1="0" y1="269.0" x2="0" y2="25.0"/><linearGradient id="g1" href="#pm" x1="0" y1="275.4" x2="0" y2="31.4"/><linearGradient id="g2" href="#pm" x1="0" y1="281.7" x2="0" y2="37.7"/><linearGradient id="g3" href="#pm" x1="0" y1="283.4" x2="0" y2="39.4"/><linearGradient id="g4" href="#pm" x1="0" y1="288.1" x2="0" y2="44.1"/><linearGradient id="g5" href="#pm" x1="0" y1="289.0" x2="0" y2="44.9"/><linearGradient id="g6" href="#pm" x1="0" y1="289.8" x2="0" y2="45.8"/><linearGradient id="g7" href="#pm" x1="0" y1="290.7" x2="0" y2="46.6"/><linearGradient id="g8" href="#pm" x1="0" y1="294.5" x2="0" y2="50.5"/><linearGradient id="g9" href="#pm" x1="0" y1="295.3" x2="0" y2="51.3"/><linearGradient id="g10" href="#pm" x1="0" y1="296.2" x2="0" y2="52.2"/><linearGradient id="g11" href="#pm" x1="0" y1="297.0" x2="0" y2="53.0"/><linearGradient id="g12" href="#pm" x1="0" y1="297.9" x2="0" y2="53.9"/><linearGradient id="g13" href="#pm" x1="0" y1="300.9" x2="0" y2="56.8"/><linearGradient id="g14" href="#pm" x1="0" y1="301.7" x2="0" y2="57.7"/><linearGradient id="g15" href="#pm" x1="0" y1="303.4" x2="0" y2="59.4"/><linearGradient id="g16" href="#pm" x1="0" y1="304.3" x2="0" y2="60.2"/><linearGradient id="g17" href="#pm" x1="0" y1="305.1" x2="0" y2="61.1"/><linearGradient id="g18" href="#pm" x1="0" y1="307.2" x2="0" y2="63.2"/><linearGradient id="g19" href="#pm" x1="0" y1="308.1" x2="0" y2="64.1"/><linearGradient id="g20" href="#pm" x1="0" y1="308.9" x2="0" y2="64.9"/><linearGradient id="g21" href="#pm" x1="0" y1="311.5" x2="0" y2="67.5"/><linearGradient id="g22" href="#pm" x1="0" y1="312.3" x2="0" y2="68.3"/><linearGradient id="g23" href="#pm" x1="0" y1="314.4" x2="0" y2="70.4"/><linearGradient id="g24" href="#pm" x1="0" y1="315.3" x2="0" y2="71.3"/><linearGradient id="g25" href="#pm" x1="0" y1="317.8" x2="0" y2="73.8"/><linearGradient id="g26" href="#pm" x1="0" y1="319.5" x2="0" y2="75.5"/><linearGradient id="g27" href="#pm" x1="0" y1="320.8" x2="0" y2="76.8"/><linearGradient id="g28" href="#pm" x1="0" y1="322.5" x2="0" y2="78.5"/><linearGradient id="g29" href="#pm" x1="0" y1="324.2" x2="0" y2="80.2"/><linearGradient id="g30" href="#pm" x1="0" y1="325.1" x2="0" y2="81.0"/><linearGradient id="g31" href="#pm" x1="0" y1="326.3" x2="0" y2="82.3"/><linearGradient id="g32" href="#pm" x1="0" y1="326.8" x2="0" y2="82.7"/><linearGradient id="g33" href="#pm" x1="0" y1="327.2" x2="0" y2="83.2"/><linearGradient id="g34" href="#pm" x1="0" y1="328.0" x2="0" y2="84.0"/><linearGradient id="g35" href="#pm" x1="0" y1="328.9" x2="0" y2="84.9"/><linearGradient id="g36" href="#pm" x1="0" y1="329.7" x2="0" y2="85.7"/><linearGradient id="g37" href="#pm" x1="0" y1="330.6" x2="0" y2="86.6"/><linearGradient id="g38" href="#pm" x1="0" y1="331.4" x2="0" y2="87.4"/><linearGradient id="g39" href="#pm" x1="0" y1="332.3" x2="0" y2="88.3"/><linearGradient id="g40" href="#pm" x1="0" y1="332.7" x2="0" y2="88.7"/><linearGradient id="g41" href="#pm" x1="0" y1="333.1" x2="0" y2="89.1"/><linearGradient id="g42" href="#pm" x1="0" y1="333.6" x2="0" y2="89.5"/><linearGradient id="g43" href="#pm" x1="0" y1="334.0" x2="0" y2="90.0"/><linearGradient id="g44" href="#pm" x1="0" y1="334.4" x2="0" y2="90.4"/><linearGradient id="g45" href="#pm" x1="0" y1="336.1" x2="0" y2="92.1"/><linearGradient id="g46" href="#pm" x1="0" y1="337.8" x2="0" y2="93.8"/><linearGradient id="g47" href="#pm" x1="0" y1="338.7" x2="0" y2="94.6"/><linearGradient id="g48" href="#pm" x1="0" y1="339.5" x2="0" y2="95.5"/><linearGradient id="g49" href="#pm" x1="0" y1="339.9" x2="0" y2="95.9"/><linearGradient id="g50" href="#pm" x1="0" y1="340.4" x2="0" y2="96.3"/><linearGradient id="g51" href="#pm" x1="0" y1="341.6" x2="0" y2="97.6"/><linearGradient id="g52" href="#pm" x1="0" y1="342.5" x2="0" y2="98.5"/><linearGradient id="g53" href="#pm" x1="0" y1="343.3" x2="0" y2="99.3"/><linearGradient id="g54" href="#pm" x1="0" y1="344.2" x2="0" y2="100.2"/><linearGradient id="g55" href="#pm" x1="0" y1="345.0" x2="0" y2="101.0"/><linearGradient id="g56" href="#pm" x1="0" y1="345.4" x2="0" y2="101.4"/><linearGradient id="g57" href="#pm" x1="0" y1="345.9" x2="0" y2="101.9"/><linearGradient id="g58" href="#pm" x1="0" y1="346.3" x2="0" y2="102.3"/><linearGradient id="g59" href="#pm" x1="0" y1="346.7" x2="0" y2="102.7"/><linearGradient id="g60" href="#pm" x1="0" y1="347.6" x2="0" y2="103.6"/><linearGradient id="g61" href="#pm" x1="0" y1="348.4" x2="0" y2="104.4"/><linearGradient id="g62" href="#pm" x1="0" y1="348.8" x2="0" y2="104.8"/><linearGradient id="g63" href="#pm" x1="0" y1="349.7" x2="0" y2="105.7"/><linearGradient id="g64" href="#pm" x1="0" y1="350.5" x2="0" y2="106.5"/><linearGradient id="g65" href="#pm" x1="0" y1="351.8" x2="0" y2="107.8"/><linearGradient id="g66" href="#pm" x1="0" y1="352.2" x2="0" y2="108.2"/><linearGradient id="g67" href="#pm" x1="0" y1="352.7" x2="0" y2="108.6"/><linearGradient id="g68" href="#pm" x1="0" y1="353.1" x2="0" y2="109.1"/><linearGradient id="g69" href="#pm" x1="0" y1="353.5" x2="0" y2="109.5"/><linearGradient id="g70" href="#pm" x1="0" y1="354.4" x2="0" y2="110.3"/><linearGradient id="g71" href="#pm" x1="0" y1="354.8" x2="0" y2="110.8"/><linearGradient id="g72" href="#pm" x1="0" y1="355.2" x2="0" y2="111.2"/><linearGradient id="g73" href="#pm" x1="0" y1="355.6" x2="0" y2="111.6"/><linearGradient id="g74" href="#pm" x1="0" y1="356.1" x2="0" y2="112.0"/><linearGradient id="g75" href="#pm" x1="0" y1="356.9" x2="0" y2="112.9"/><linearGradient id="g76" href="#pm" x1="0" y1="357.8" x2="0" y2="113.7"/><linearGradient id="g77" href="#pm" x1="0" y1="358.2" x2="0" y2="114.2"/><linearGradient id="g78" href="#pm" x1="0" y1="358.6" x2="0" y2="114.6"/><linearGradient id="g79" href="#pm" x1="0" y1="359.0" x2="0" y2="115.0"/><linearGradient id="g80" href="#pm" x1="0" y1="359.5" x2="0" y2="115.4"/><linearGradient id="g81" href="#pm" x1="0" y1="359.9" x2="0" y2="115.9"/><linearGradient id="g82" href="#pm" x1="0" y1="360.3" x2="0" y2="116.3"/><linearGradient id="g83" href="#pm" x1="0" y1="360.7" x2="0" y2="116.7"/><linearGradient id="g84" href="#pm" x1="0" y1="361.2" x2="0" y2="117.1"/><linearGradient id="g85" href="#pm" x1="0" y1="361.6" x2="0" y2="117.6"/><linearGradient id="g86" href="#pm" x1="0" y1="362.4" x2="0" y2="118.4"/><linearGradient id="g87" href="#pm" x1="0" y1="362.9" x2="0" y2="118.8"/><linearGradient id="g88" href="#pm" x1="0" y1="363.3" x2="0" y2="119.3"/><linearGradient id="g89" href="#pm" x1="0" y1="364.1" x2="0" y2="120.1"/><linearGradient id="g90" href="#pm" x1="0" y1="364.6" x2="0" y2="120.5"/><linearGradient id="g91" href="#pm" x1="0" y1="365.4" x2="0" y2="121.4"/><linearGradient id="g92" href="#pm" x1="0" y1="366.3" x2="0" y2="122.2"/><linearGradient id="g93" href="#pm" x1="0" y1="367.1" x2="0" y2="123.1"/><linearGradient id="g94" href="#pm" x1="0" y1="368.0" x2="0" y2="123.9"/><linearGradient id="g95" href="#pm" x1="0" y1="369.7" x2="0" y2="125.6"/><linearGradient id="g96" href="#pm" x1="0" y1="370.1" x2="0" y2="126.1"/><linearGradient id="g97" href="#pm" x1="0" y1="370.9" x2="0" y2="126.9"/><linearGradient id="g98" href="#pm" x1="0" y1="371.4" x2="0" y2="127.3"/><linearGradient id="g99" href="#pm" x1="0" y1="371.8" x2="0" y2="127.8"/><linearGradient id="g100" href="#pm" x1="0" y1="372.2" x2="0" y2="128.2"/><linearGradient id="g101" href="#pm" x1="0" y1="372.6" x2="0" y2="128.6"/><linearGradient id="g102" href="#pm" x1="0" y1="373.1" x2="0" y2="129.0"/><linearGradient id="g103" href="#pm" x1="0" y1="373.5" x2="0" y2="129.5"/><linearGradient id="g104" href="#pm" x1="0" y1="373.9" x2="0" y2="129.9"/><linearGradient id="g105" href="#pm" x1="0" y1="374.3" x2="0" y2="130.3"/><linearGradient id="g106" href="#pm" x1="0" y1="374.8" x2="0" y2="130.7"/><linearGradient id="g107" href="#pm" x1="0" y1="375.2" x2="0" y2="131.2"/><linearGradient id="g108" href="#pm" x1="0" y1="375.6" x2="0" y2="131.6"/><linearGradient id="g109" href="#pm" x1="0" y1="376.0" x2="0" y2="132.0"/><linearGradient id="g110" href="#pm" x1="0" y1="377.3" x2="0" y2="133.3"/><linearGradient id="g111" href="#pm" x1="0" y1="377.7" x2="0" y2="133.7"/><linearGradient id="g112" href="#pm" x1="0" y1="378.1" x2="0" y2="134.1"/><linearGradient id="g113" href="#pm" x1="0" y1="378.6" x2="0" y2="134.6"/><linearGradient id="g114" href="#pm" x1="0" y1="379.0" x2="0" y2="135.0"/><linearGradient id="g115" href="#pm" x1="0" y1="379.8" x2="0" y2="135.8"/><linearGradient id="g116" href="#pm" x1="0" y1="380.3" x2="0" y2="136.3"/><linearGradient id="g117" href="#pm" x1="0" y1="380.7" x2="0" y2="136.7"/><linearGradient id="g118" href="#pm" x1="0" y1="381.1" x2="0" y2="137.1"/><linearGradient id="g119" href="#pm" x1="0" y1="381.5" x2="0" y2="137.5"/><linearGradient id="g120" href="#pm" x1="0" y1="382.0" x2="0" y2="138.0"/><linearGradient id="g121" href="#pm" x1="0" y1="382.4" x2="0" y2="138.4"/><linearGradient id="g122" href="#pm" x1="0" y1="382.8" x2="0" y2="138.8"/><linearGradient id="g123" href="#pm" x1="0" y1="384.5" x2="0" y2="140.5"/><linearGradient id="g124" href="#pm" x1="0" y1="384.9" x2="0" y2="140.9"/><linearGradient id="g125" href="#pm" x1="0" y1="385.4" x2="0" y2="141.3"/><linearGradient id="g126" href="#pm" x1="0" y1="387.1" x2="0" y2="143.0"/><linearGradient id="g127" href="#pm" x1="0" y1="387.5" x2="0" y2="143.5"/><linearGradient id="g128" href="#pm" x1="0" y1="387.9" x2="0" y2="143.9"/><linearGradient id="g129" href="#pm" x1="0" y1="388.3" x2="0" y2="144.3"/><linearGradient id="g130" href="#pm" x1="0" y1="389.2" x2="0" y2="145.2"/><linearGradient id="g131" href="#pm" x1="0" y1="389.6" x2="0" y2="145.6"/><linearGradient id="g132" href="#pm" x1="0" y1="390.0" x2="0" y2="146.0"/><linearGradient id="g133" href="#pm" x1="0" y1="390.5" x2="0" y2="146.4"/><linearGradient id="g134" href="#pm" x1="0" y1="390.9" x2="0" y2="146.9"/><linearGradient id="g135" href="#pm" x1="0" y1="391.3" x2="0" y2="147.3"/><linearGradient id="g136" href="#pm" x1="0" y1="391.7" x2="0" y2="147.7"/><linearGradient id="g137" href="#pm" x1="0" y1="392.2" x2="0" y2="148.1"/><linearGradient id="g138" href="#pm" x1="0" y1="392.6" x2="0" y2="148.6"/><linearGradient id="g139" href="#pm" x1="0" y1="393.0" x2="0" y2="149.0"/><linearGradient id="g140" href="#pm" x1="0" y1="393.4" x2="0" y2="149.4"/><linearGradient id="g141" href="#pm" x1="0" y1="393.9" x2="0" y2="149.8"/><linearGradient id="g142" href="#pm" x1="0" y1="395.1" x2="0" y2="151.1"/><linearGradient id="g143" href="#pm" x1="0" y1="395.6" x2="0" y2="151.5"/><linearGradient id="g144" href="#pm" x1="0" y1="396.0" x2="0" y2="152.0"/><linearGradient id="g145" href="#pm" x1="0" y1="396.4" x2="0" y2="152.4"/><linearGradient id="g146" href="#pm" x1="0" y1="396.8" x2="0" y2="152.8"/><linearGradient id="g147" href="#pm" x1="0" y1="397.3" x2="0" y2="153.2"/><linearGradient id="g148" href="#pm" x1="0" y1="397.7" x2="0" y2="153.7"/><linearGradient id="g149" href="#pm" x1="0" y1="398.1" x2="0" y2="154.1"/><linearGradient id="g150" href="#pm" x1="0" y1="398.5" x2="0" y2="154.5"/><linearGradient id="g151" href="#pm" x1="0" y1="399.0" x2="0" y2="154.9"/><linearGradient id="g152" href="#pm" x1="0" y1="399.8" x2="0" y2="155.8"/><linearGradient id="g153" href="#pm" x1="0" y1="400.7" x2="0" y2="156.6"/><linearGradient id="g154" href="#pm" x1="0" y1="401.1" x2="0" y2="157.1"/><linearGradient id="g155" href="#pm" x1="0" y1="401.9" x2="0" y2="157.9"/><linearGradient id="g156" href="#pm" x1="0" y1="402.4" x2="0" y2="158.3"/><linearGradient id="g157" href="#pm" x1="0" y1="402.8" x2="0" y2="158.8"/><linearGradient id="g158" href="#pm" x1="0" y1="403.6" x2="0" y2="159.6"/><linearGradient id="g159" href="#pm" x1="0" y1="404.1" x2="0" y2="160.0"/><linearGradient id="g160" href="#pm" x1="0" y1="404.5" x2="0" y2="160.5"/><linearGradient id="g161" href="#pm" x1="0" y1="404.9" x2="0" y2="160.9"/><linearGradient id="g162" href="#pm" x1="0" y1="405.3" x2="0" y2="161.3"/><linearGradient id="g163" href="#pm" x1="0" y1="405.8" x2="0" y2="161.7"/><linearGradient id="g164" href="#pm" x1="0" y1="406.2" x2="0" y2="162.2"/><linearGradient id="g165" href="#pm" x1="0" y1="406.6" x2="0" y2="162.6"/><linearGradient id="g166" href="#pm" x1="0" y1="407.9" x2="0" y2="163.9"/><linearGradient id="g167" href="#pm" x1="0" y1="408.7" x2="0" y2="164.7"/><linearGradient id="g168" href="#pm" x1="0" y1="409.2" x2="0" y2="165.1"/><linearGradient id="g169" href="#pm" x1="0" y1="410.0" x2="0" y2="166.0"/><linearGradient id="g170" href="#pm" x1="0" y1="410.9" x2="0" y2="166.8"/><linearGradient id="g171" href="#pm" x1="0" y1="411.3" x2="0" y2="167.3"/><linearGradient id="g172" href="#pm" x1="0" y1="412.1" x2="0" y2="168.1"/><linearGradient id="g173" href="#pm" x1="0" y1="413.0" x2="0" y2="169.0"/><linearGradient id="g174" href="#pm" x1="0" y1="413.8" x2="0" y2="169.8"/><linearGradient id="g175" href="#pm" x1="0" y1="414.2" x2="0" y2="170.2"/><linearGradient id="g176" href="#pm" x1="0" y1="415.1" x2="0" y2="171.1"/><linearGradient id="g177" href="#pm" x1="0" y1="416.8" x2="0" y2="172.8"/><linearGradient id="g178" href="#pm" x1="0" y1="417.2" x2="0" y2="173.2"/><linearGradient id="g179" href="#pm" x1="0" y1="417.6" x2="0" y2="173.6"/><linearGradient id="g180" href="#pm" x1="0" y1="418.1" x2="0" y2="174.1"/><linearGradient id="g181" href="#pm" x1="0" y1="418.5" x2="0" y2="174.5"/><linearGradient id="g182" href="#pm" x1="0" y1="418.9" x2="0" y2="174.9"/><linearGradient id="g183" href="#pm" x1="0" y1="419.3" x2="0" y2="175.3"/><linearGradient id="g184" href="#pm" x1="0" y1="419.8" x2="0" y2="175.8"/><linearGradient id="g185" href="#pm" x1="0" y1="420.2" x2="0" y2="176.2"/><linearGradient id="g186" href="#pm" x1="0" y1="420.6" x2="0" y2="176.6"/><linearGradient id="g187" href="#pm" x1="0" y1="421.0" x2="0" y2="177.0"/><linearGradient id="g188" href="#pm" x1="0" y1="421.5" x2="0" y2="177.4"/><linearGradient id="g189" href="#pm" x1="0" y1="421.9" x2="0" y2="177.9"/><linearGradient id="g190" href="#pm" x1="0" y1="422.3" x2="0" y2="178.3"/><linearGradient id="g191" href="#pm" x1="0" y1="422.7" x2="0" y2="178.7"/><linearGradient id="g192" href="#pm" x1="0" y1="423.6" x2="0" y2="179.6"/><linearGradient id="g193" href="#pm" x1="0" y1="424.4" x2="0" y2="180.4"/><linearGradient id="g194" href="#pm" x1="0" y1="424.9" x2="0" y2="180.8"/><linearGradient id="g195" href="#pm" x1="0" y1="425.3" x2="0" y2="181.3"/><linearGradient id="g196" href="#pm" x1="0" y1="426.1" x2="0" y2="182.1"/><linearGradient id="g197" href="#pm" x1="0" y1="427.0" x2="0" y2="183.0"/><linearGradient id="g198" href="#pm" x1="0" y1="427.8" x2="0" y2="183.8"/><linearGradient id="g199" href="#pm" x1="0" y1="428.3" x2="0" y2="184.2"/><linearGradient id="g200" href="#pm" x1="0" y1="428.7" x2="0" y2="184.7"/><linearGradient id="g201" href="#pm" x1="0" y1="429.1" x2="0" y2="185.1"/><linearGradient id="g202" href="#pm" x1="0" y1="429.5" x2="0" y2="185.5"/><linearGradient id="g203" href="#pm" x1="0" y1="430.0" x2="0" y2="185.9"/><linearGradient id="g204" href="#pm" x1="0" y1="430.4" x2="0" y2="186.4"/><linearGradient id="g205" href="#pm" x1="0" y1="430.8" x2="0" y2="186.8"/><linearGradient id="g206" href="#pm" x1="0" y1="431.2" x2="0" y2="187.2"/><linearGradient id="g207" href="#pm" x1="0" y1="431.7" x2="0" y2="187.6"/><linearGradient id="g208" href="#pm" x1="0" y1="432.1" x2="0" y2="188.1"/><linearGradient id="g209" href="#pm" x1="0" y1="432.9" x2="0" y2="188.9"/><linearGradient id="g210" href="#pm" x1="0" y1="433.4" x2="0" y2="189.3"/><linearGradient id="g211" href="#pm" x1="0" y1="433.8" x2="0" y2="189.8"/><linearGradient id="g212" href="#pm" x1="0" y1="434.2" x2="0" y2="190.2"/><linearGradient id="g213" href="#pm" x1="0" y1="435.5" x2="0" y2="191.5"/><linearGradient id="g214" href="#pm" x1="0" y1="435.9" x2="0" y2="191.9"/><linearGradient id="g215" href="#pm" x1="0" y1="436.8" x2="0" y2="192.7"/><linearGradient id="g216" href="#pm" x1="0" y1="437.6" x2="0" y2="193.6"/><linearGradient id="g217" href="#pm" x1="0" y1="438.0" x2="0" y2="194.0"/><linearGradient id="g218" href="#pm" x1="0" y1="438.9" x2="0" y2="194.9"/><linearGradient id="g219" href="#pm" x1="0" y1="439.3" x2="0" y2="195.3"/><linearGradient id="g220" href="#pm" x1="0" y1="439.7" x2="0" y2="195.7"/><linearGradient id="g221" href="#pm" x1="0" y1="440.2" x2="0" y2="196.1"/><linearGradient id="g222" href="#pm" x1="0" y1="440.6" x2="0" y2="196.6"/><linearGradient id="g223" href="#pm" x1="0" y1="441.9" x2="0" y2="197.8"/><linearGradient id="g224" href="#pm" x1="0" y1="443.6" x2="0" y2="199.5"/><linearGradient id="g225" href="#pm" x1="0" y1="444.4" x2="0" y2="200.4"/><linearGradient id="g226" href="#pm" x1="0" y1="444.8" x2="0" y2="200.8"/><linearGradient id="g227" href="#pm" x1="0" y1="445.3" x2="0" y2="201.2"/><linearGradient id="g228" href="#pm" x1="0" y1="446.1" x2="0" y2="202.1"/><linearGradient id="g229" href="#pm" x1="0" y1="446.5" x2="0" y2="202.5"/><linearGradient id="g230" href="#pm" x1="0" y1="447.0" x2="0" y2="202.9"/><linearGradient id="g231" href="#pm" x1="0" y1="447.4" x2="0" y2="203.4"/><linearGradient id="g232" href="#pm" x1="0" y1="447.8" x2="0" y2="203.8"/><linearGradient id="g233" href="#pm" x1="0" y1="449.1" x2="0" y2="205.1"/><linearGradient id="g234" href="#pm" x1="0" y1="450.3" x2="0" y2="206.3"/><linearGradient id="g235" href="#pm" x1="0" y1="450.8" x2="0" y2="206.8"/><linearGradient id="g236" href="#pm" x1="0" y1="451.6" x2="0" y2="207.6"/><linearGradient id="g237" href="#pm" x1="0" y1="452.5" x2="0" y2="208.5"/><linearGradient id="g238" href="#pm" x1="0" y1="452.9" x2="0" y2="208.9"/><linearGradient id="g239" href="#pm" x1="0" y1="453.3" x2="0" y2="209.3"/><linearGradient id="g240" href="#pm" x1="0" y1="454.6" x2="0" y2="210.6"/><linearGradient id="g241" href="#pm" x1="0" y1="455.4" x2="0" y2="211.4"/><linearGradient id="g242" href="#pm" x1="0" y1="456.3" x2="0" y2="212.3"/><linearGradient id="g243" href="#pm" x1="0" y1="458.0" x2="0" y2="214.0"/><linearGradient id="g244" href="#pm" x1="0" y1="458.4" x2="0" y2="214.4"/><linearGradient id="g245" href="#pm" x1="0" y1="458.8" x2="0" y2="214.8"/><linearGradient id="g246" href="#pm" x1="0" y1="460.1" x2="0" y2="216.1"/><linearGradient id="g247" href="#pm" x1="0" y1="460.5" x2="0" y2="216.5"/><linearGradient id="g248" href="#pm" x1="0" y1="461.4" x2="0" y2="217.4"/><linearGradient id="g249" href="#pm" x1="0" y1="461.8" x2="0" y2="217.8"/><linearGradient id="g250" href="#pm" x1="0" y1="462.7" x2="0" y2="218.6"/><linearGradient id="g251" href="#pm" x1="0" y1="463.5" x2="0" y2="219.5"/><linearGradient id="g252" href="#pm" x1="0" y1="464.4" x2="0" y2="220.3"/><linearGradient id="g253" href="#pm" x1="0" y1="465.2" x2="0" y2="221.2"/><linearGradient id="g254" href="#pm" x1="0" y1="466.1" x2="0" y2="222.0"/><linearGradient id="g255" href="#pm" x1="0" y1="466.5" x2="0" y2="222.5"/><linearGradient id="g256" href="#pm" x1="0" y1="467.3" x2="0" y2="223.3"/><linearGradient id="g257" href="#pm" x1="0" y1="467.8" x2="0" y2="223.7"/><linearGradient id="g258" href="#pm" x1="0" y1="468.2" x2="0" y2="224.2"/><linearGradient id="g259" href="#pm" x1="0" y1="469.0" x2="0" y2="225.0"/><linearGradient id="g260" href="#pm" x1="0" y1="469.9" x2="0" y2="225.9"/><linearGradient id="g261" href="#pm" x1="0" y1="471.6" x2="0" y2="227.6"/><linearGradient id="g262" href="#pm" x1="0" y1="472.4" x2="0" y2="228.4"/><linearGradient id="g263" href="#pm" x1="0" y1="473.3" x2="0" y2="229.3"/><linearGradient id="g264" href="#pm" x1="0" y1="474.1" x2="0" y2="230.1"/><linearGradient id="g265" href="#pm" x1="0" y1="477.1" x2="0" y2="233.1"/><linearGradient id="g266" href="#pm" x1="0" y1="478.8" x2="0" y2="234.8"/><linearGradient id="g267" href="#pm" x1="0" y1="480.1" x2="0" y2="236.1"/><linearGradient id="g268" href="#pm" x1="0" y1="480.5" x2="0" y2="236.5"/><linearGradient id="g269" href="#pm" x1="0" y1="481.8" x2="0" y2="237.8"/><linearGradient id="g270" href="#pm" x1="0" y1="484.3" x2="0" y2="240.3"/><linearGradient id="g271" href="#pm" x1="0" y1="485.2" x2="0" y2="241.2"/><linearGradient id="g272" href="#pm" x1="0" y1="486.0" x2="0" y2="242.0"/><linearGradient id="g273" href="#pm" x1="0" y1="486.4" x2="0" y2="242.4"/><linearGradient id="g274" href="#pm" x1="0" y1="486.9" x2="0" y2="242.9"/><linearGradient id="g275" href="#pm" x1="0" y1="487.3" x2="0" y2="243.3"/><linearGradient id="g276" href="#pm" x1="0" y1="488.1" x2="0" y2="244.1"/><linearGradient id="g277" href="#pm" x1="0" y1="489.8" x2="0" y2="245.8"/><linearGradient id="g278" href="#pm" x1="0" y1="490.7" x2="0" y2="246.7"/><linearGradient id="g279" href="#pm" x1="0" y1="491.5" x2="0" y2="247.5"/><linearGradient id="g280" href="#pm" x1="0" y1="493.2" x2="0" y2="249.2"/><linearGradient id="g281" href="#pm" x1="0" y1="494.5" x2="0" y2="250.5"/><linearGradient id="g282" href="#pm" x1="0" y1="495.4" x2="0" y2="251.3"/><linearGradient id="g283" href="#pm" x1="0" y1="496.2" x2="0" y2="252.2"/><linearGradient id="g284" href="#pm" x1="0" y1="497.9" x2="0" y2="253.9"/><linearGradient id="g285" href="#pm" x1="0" y1="499.6" x2="0" y2="255.6"/><linearGradient id="g286" href="#pm" x1="0" y1="500.9" x2="0" y2="256.9"/><linearGradient id="g287" href="#pm" x1="0" y1="501.7" x2="0" y2="257.7"/><linearGradient id="g288" href="#pm" x1="0" y1="502.6" x2="0" y2="258.6"/><linearGradient id="g289" href="#pm" x1="0" y1="503.4" x2="0" y2="259.4"/><linearGradient id="g290" href="#pm" x1="0" y1="504.3" x2="0" y2="260.3"/><linearGradient id="g291" href="#pm" x1="0" y1="505.1" x2="0" y2="261.1"/><linearGradient id="g292" href="#pm" x1="0" y1="506.0" x2="0" y2="262.0"/><linearGradient id="g293" href="#pm" x1="0" y1="508.1" x2="0" y2="264.1"/><linearGradient id="g294" href="#pm" x1="0" y1="509.0" x2="0" y2="264.9"/><linearGradient id="g295" href="#pm" x1="0" y1="510.7" x2="0" y2="266.6"/><linearGradient id="g296" href="#pm" x1="0" y1="512.4" x2="0" y2="268.3"/><linearGradient id="g297" href="#pm" x1="0" y1="515.3" x2="0" y2="271.3"/><linearGradient id="g298" href="#pm" x1="0" y1="516.2" x2="0" y2="272.2"/><linearGradient id="g299" href="#pm" x1="0" y1="522.5" x2="0" y2="278.5"/><linearGradient id="g300" href="#pm" x1="0" y1="523.4" x2="0" y2="279.4"/><linearGradient id="g301" href="#pm" x1="0" y1="525.1" x2="0" y2="281.1"/><linearGradient id="g302" href="#pm" x1="0" y1="529.8" x2="0" y2="285.7"/><linearGradient id="g303" href="#pm" x1="0" y1="530.6" x2="0" y2="286.6"/><linearGradient id="g304" href="#pm" x1="0" y1="531.5" x2="0" y2="287.4"/><linearGradient id="g305" href="#pm" x1="0" y1="537.0" x2="0" y2="293.0"/><linearGradient id="g306" href="#pm" x1="0" y1="537.8" x2="0" y2="293.8"/><linearGradient id="g307" href="#pm" x1="0" y1="544.2" x2="0" y2="300.2"/></defs><path d="M710.3 70.2V369.5" fill="none" stroke="#1f1f1f" stroke-width="6.2"/><clipPath id="axclip"><rect x="600" y="0" width="700" height="582.3"/></clipPath><path d="M707.5 367.6L1023.5 585.6L1289.5 477.9" fill="none" stroke="#1f1f1f" stroke-width="6" stroke-linejoin="miter" clip-path="url(#axclip)"/><g stroke="#1a1a24" stroke-width="1.9" stroke-linejoin="round"><path d="M967.8 268.7L976.1 274.4L976.1 143.6L967.8 137.8ZM976.1 274.4L988.7 269.3L988.7 138.5L976.1 143.6Z" fill="url(#g0)"/><path d="M967.8 137.8L980.4 132.7L988.7 138.5L976.1 143.6Z" fill="#6dc4b3"/><path d="M952.0 275.0L960.4 280.8L960.4 211.0L952.0 205.2ZM960.4 280.8L973.0 275.7L973.0 205.9L960.4 211.0Z" fill="url(#g1)"/><path d="M952.0 205.2L964.6 200.1L973.0 205.9L960.4 211.0Z" fill="#537df5"/><path d="M978.2 275.9L990.8 270.8L999.2 276.6L986.6 281.7Z" fill="#4034dc"/><path d="M936.3 281.4L944.6 287.2L944.6 276.2L936.3 270.4ZM944.6 287.2L957.2 282.1L957.2 271.1L944.6 276.2Z" fill="url(#g2)"/><path d="M936.3 270.4L948.9 265.3L957.2 271.1L944.6 276.2Z" fill="#423be3"/><path d="M962.5 282.3L975.1 277.2L983.4 282.9L970.8 288.0Z" fill="#4034dc"/><path d="M988.7 283.1L997.0 288.9L997.0 59.6L988.7 53.8ZM997.0 288.9L1009.6 283.8L1009.6 54.5L997.0 59.6Z" fill="url(#g3)"/><path d="M988.7 53.8L1001.3 48.7L1009.6 54.5L997.0 59.6Z" fill="#f5db42"/><path d="M920.5 287.8L928.9 293.6L928.9 282.5L920.5 276.8ZM928.9 293.6L941.5 288.5L941.5 277.4L928.9 282.5Z" fill="url(#g4)"/><path d="M920.5 276.8L933.1 271.7L941.5 277.4L928.9 282.5Z" fill="#423be3"/><path d="M946.7 288.6L955.1 294.4L955.1 213.6L946.7 207.8ZM955.1 294.4L967.7 289.3L967.7 208.5L955.1 213.6Z" fill="url(#g5)"/><path d="M946.7 207.8L959.3 202.7L967.7 208.5L955.1 213.6Z" fill="#568fee"/><path d="M972.9 289.5L981.3 295.3L981.3 265.9L972.9 260.1ZM981.3 295.3L993.9 290.2L993.9 260.8L981.3 265.9Z" fill="url(#g6)"/><path d="M972.9 260.1L985.5 255.0L993.9 260.8L981.3 265.9Z" fill="#484bee"/><path d="M999.1 290.3L1007.5 296.1L1007.5 138.1L999.1 132.3ZM1007.5 296.1L1020.1 291.0L1020.1 133.0L1007.5 138.1Z" fill="url(#g7)"/><path d="M999.1 132.3L1011.7 127.2L1020.1 133.0L1007.5 138.1Z" fill="#9ccd6b"/><path d="M904.8 294.1L913.2 299.9L913.2 277.9L904.8 272.1ZM913.2 299.9L925.8 294.8L925.8 272.8L913.2 277.9Z" fill="url(#g8)"/><path d="M904.8 272.1L917.4 267.0L925.8 272.8L913.2 277.9Z" fill="#4544ea"/><path d="M931.0 295.0L939.4 300.8L939.4 253.0L931.0 247.2ZM939.4 300.8L952.0 295.7L952.0 247.9L939.4 253.0Z" fill="url(#g9)"/><path d="M931.0 247.2L943.6 242.1L952.0 247.9L939.4 253.0Z" fill="#4c5ff6"/><path d="M957.2 295.8L965.6 301.6L965.6 261.2L957.2 255.4ZM965.6 301.6L978.2 296.5L978.2 256.1L965.6 261.2Z" fill="url(#g10)"/><path d="M957.2 255.4L969.8 250.3L978.2 256.1L965.6 261.2Z" fill="#4b56f3"/><path d="M983.4 296.7L991.8 302.5L991.8 291.4L983.4 285.7ZM991.8 302.5L1004.4 297.4L1004.4 286.4L991.8 291.4Z" fill="url(#g11)"/><path d="M983.4 285.7L996.0 280.6L1004.4 286.4L991.8 291.4Z" fill="#423be3"/><path d="M1009.6 297.5L1018.0 303.3L1018.0 244.5L1009.6 238.7ZM1018.0 303.3L1030.6 298.2L1030.6 239.4L1018.0 244.5Z" fill="url(#g12)"/><path d="M1009.6 238.7L1022.2 233.6L1030.6 239.4L1018.0 244.5Z" fill="#4f6df7"/><path d="M889.1 300.5L897.4 306.3L897.4 121.8L889.1 116.0ZM897.4 306.3L910.0 301.2L910.0 116.7L897.4 121.8Z" fill="url(#g13)"/><path d="M889.1 116.0L901.7 110.9L910.0 116.7L897.4 121.8Z" fill="#d4c744"/><path d="M915.3 301.4L923.6 307.1L923.6 263.0L915.3 257.3ZM923.6 307.1L936.2 302.0L936.2 257.9L923.6 263.0Z" fill="url(#g14)"/><path d="M915.3 257.3L927.9 252.2L936.2 257.9L923.6 263.0Z" fill="#4c5bf4"/><path d="M941.5 302.2L954.1 297.1L962.4 302.9L949.8 308.0Z" fill="#4034dc"/><path d="M967.7 303.1L976.0 308.8L976.0 142.0L967.7 136.2ZM976.0 308.8L988.6 303.7L988.6 136.9L976.0 142.0Z" fill="url(#g15)"/><path d="M967.7 136.2L980.3 131.1L988.6 136.9L976.0 142.0Z" fill="#afcd58"/><path d="M993.9 303.9L1002.2 309.7L1002.2 184.7L993.9 179.0ZM1002.2 309.7L1014.8 304.6L1014.8 179.6L1002.2 184.7Z" fill="url(#g16)"/><path d="M993.9 179.0L1006.5 173.9L1014.8 179.6L1002.2 184.7Z" fill="#68c2be"/><path d="M1020.1 304.8L1028.4 310.5L1028.4 210.6L1020.1 204.8ZM1028.4 310.5L1041.0 305.4L1041.0 205.5L1028.4 210.6Z" fill="url(#g17)"/><path d="M1020.1 204.8L1032.7 199.7L1041.0 205.5L1028.4 210.6Z" fill="#5eacdd"/><path d="M873.3 306.9L881.7 312.7L881.7 242.8L873.3 237.1ZM881.7 312.7L894.3 307.6L894.3 237.7L881.7 242.8Z" fill="url(#g18)"/><path d="M873.3 237.1L885.9 232.0L894.3 237.7L881.7 242.8Z" fill="#537df5"/><path d="M899.5 307.7L907.9 313.5L907.9 265.7L899.5 260.0ZM907.9 313.5L920.5 308.4L920.5 260.6L907.9 265.7Z" fill="url(#g19)"/><path d="M899.5 260.0L912.1 254.9L920.5 260.6L907.9 265.7Z" fill="#4c5ff6"/><path d="M925.7 308.6L934.1 314.4L934.1 211.5L925.7 205.7ZM934.1 314.4L946.7 309.3L946.7 206.4L934.1 211.5Z" fill="url(#g20)"/><path d="M925.7 205.7L938.3 200.6L946.7 206.4L934.1 211.5Z" fill="#5fafda"/><path d="M951.9 309.4L964.5 304.3L972.9 310.1L960.3 315.2Z" fill="#4034dc"/><path d="M978.1 310.3L990.7 305.2L999.1 311.0L986.5 316.1Z" fill="#4034dc"/><path d="M1004.3 311.1L1012.7 316.9L1012.7 243.4L1004.3 237.6ZM1012.7 316.9L1025.3 311.8L1025.3 238.3L1012.7 243.4Z" fill="url(#g21)"/><path d="M1004.3 237.6L1016.9 232.5L1025.3 238.3L1012.7 243.4Z" fill="#5482f4"/><path d="M1030.5 312.0L1038.9 317.8L1038.9 273.7L1030.5 267.9ZM1038.9 317.8L1051.5 312.7L1051.5 268.6L1038.9 273.7Z" fill="url(#g22)"/><path d="M1030.5 267.9L1043.1 262.8L1051.5 268.6L1038.9 273.7Z" fill="#4c5bf4"/><path d="M857.6 313.3L870.2 308.2L878.5 313.9L865.9 319.0Z" fill="#4034dc"/><path d="M883.8 314.1L892.1 319.9L892.1 224.3L883.8 218.6ZM892.1 319.9L904.7 314.8L904.7 219.2L892.1 224.3Z" fill="url(#g23)"/><path d="M883.8 218.6L896.4 213.5L904.7 219.2L892.1 224.3Z" fill="#5ca6e2"/><path d="M910.0 315.0L918.3 320.7L918.3 165.6L910.0 159.9ZM918.3 320.7L930.9 315.6L930.9 160.6L918.3 165.6Z" fill="url(#g24)"/><path d="M910.0 159.9L922.6 154.8L930.9 160.6L918.3 165.6Z" fill="#96cc74"/><path d="M936.2 315.8L948.8 310.7L957.1 316.5L944.5 321.6Z" fill="#4034dc"/><path d="M962.4 316.7L975.0 311.6L983.3 317.3L970.7 322.4Z" fill="#4034dc"/><path d="M988.6 317.5L996.9 323.3L996.9 205.7L988.6 199.9ZM996.9 323.3L1009.5 318.2L1009.5 200.6L996.9 205.7Z" fill="url(#g25)"/><path d="M988.6 199.9L1001.2 194.8L1009.5 200.6L996.9 205.7Z" fill="#65bdc8"/><path d="M1014.8 318.4L1027.4 313.3L1035.7 319.0L1023.1 324.1Z" fill="#4034dc"/><path d="M1041.0 319.2L1049.3 325.0L1049.3 222.1L1041.0 216.3ZM1049.3 325.0L1061.9 319.9L1061.9 217.0L1049.3 222.1Z" fill="url(#g26)"/><path d="M1041.0 216.3L1053.6 211.2L1061.9 217.0L1049.3 222.1Z" fill="#5fafda"/><path d="M841.8 319.6L854.4 314.5L862.8 320.3L850.2 325.4Z" fill="#4034dc"/><path d="M868.0 320.5L876.4 326.3L876.4 296.9L868.0 291.1ZM876.4 326.3L889.0 321.2L889.0 291.8L876.4 296.9Z" fill="url(#g27)"/><path d="M868.0 291.1L880.6 286.0L889.0 291.8L876.4 296.9Z" fill="#484bee"/><path d="M894.2 321.3L906.8 316.2L915.2 322.0L902.6 327.1Z" fill="#4034dc"/><path d="M920.4 322.2L928.8 328.0L928.8 208.9L920.4 203.1ZM928.8 328.0L941.4 322.9L941.4 203.8L928.8 208.9Z" fill="url(#g28)"/><path d="M920.4 203.1L933.0 198.0L941.4 203.8L928.8 208.9Z" fill="#66bec6"/><path d="M946.6 323.0L959.2 317.9L967.6 323.7L955.0 328.8Z" fill="#4034dc"/><path d="M972.8 323.9L981.2 329.7L981.2 182.7L972.8 176.9ZM981.2 329.7L993.8 324.6L993.8 177.6L981.2 182.7Z" fill="url(#g29)"/><path d="M972.8 176.9L985.4 171.8L993.8 177.6L981.2 182.7Z" fill="#84ca8c"/><path d="M999.0 324.7L1007.4 330.5L1007.4 312.1L999.0 306.3ZM1007.4 330.5L1020.0 325.4L1020.0 307.0L1007.4 312.1Z" fill="url(#g30)"/><path d="M999.0 306.3L1011.6 301.3L1020.0 307.0L1007.4 312.1Z" fill="#4440e8"/><path d="M1025.2 325.6L1037.8 320.5L1046.2 326.3L1033.6 331.4Z" fill="#4034dc"/><path d="M826.1 326.0L834.5 331.8L834.5 273.0L826.1 267.2ZM834.5 331.8L847.1 326.7L847.1 267.9L834.5 273.0Z" fill="url(#g31)"/><path d="M826.1 267.2L838.7 262.1L847.1 267.9L834.5 273.0Z" fill="#4f6df7"/><path d="M1051.4 326.4L1059.8 332.2L1059.8 310.2L1051.4 304.4ZM1059.8 332.2L1072.4 327.1L1072.4 305.1L1059.8 310.2Z" fill="url(#g32)"/><path d="M1051.4 304.4L1064.0 299.3L1072.4 305.1L1059.8 310.2Z" fill="#4544ea"/><path d="M852.3 326.8L860.7 332.6L860.7 237.1L852.3 231.3ZM860.7 332.6L873.3 327.5L873.3 232.0L860.7 237.1Z" fill="url(#g33)"/><path d="M852.3 231.3L864.9 226.2L873.3 232.0L860.7 237.1Z" fill="#5ca6e2"/><path d="M878.5 327.7L886.9 333.5L886.9 129.1L878.5 123.4ZM886.9 333.5L899.5 328.4L899.5 124.0L886.9 129.1Z" fill="url(#g34)"/><path d="M878.5 123.4L891.1 118.3L899.5 124.0L886.9 129.1Z" fill="#eec347"/><path d="M904.7 328.5L913.1 334.3L913.1 271.8L904.7 266.1ZM913.1 334.3L925.7 329.2L925.7 266.8L913.1 271.8Z" fill="url(#g35)"/><path d="M904.7 266.1L917.3 261.0L925.7 266.8L913.1 271.8Z" fill="#5072f6"/><path d="M930.9 329.4L939.3 335.2L939.3 316.8L930.9 311.0ZM939.3 335.2L951.9 330.1L951.9 311.7L939.3 316.8Z" fill="url(#g36)"/><path d="M930.9 311.0L943.5 305.9L951.9 311.7L939.3 316.8Z" fill="#4440e8"/><path d="M957.1 330.2L965.5 336.0L965.5 288.2L957.1 282.5ZM965.5 336.0L978.1 330.9L978.1 283.2L965.5 288.2Z" fill="url(#g37)"/><path d="M957.1 282.5L969.7 277.4L978.1 283.2L965.5 288.2Z" fill="#4c5ff6"/><path d="M983.3 331.1L991.7 336.9L991.7 189.9L983.3 184.1ZM991.7 336.9L1004.3 331.8L1004.3 184.8L991.7 189.9Z" fill="url(#g38)"/><path d="M983.3 184.1L995.9 179.0L1004.3 184.8L991.7 189.9Z" fill="#84ca8c"/><path d="M1009.5 331.9L1017.9 337.7L1017.9 271.6L1009.5 265.8ZM1017.9 337.7L1030.5 332.6L1030.5 266.5L1017.9 271.6Z" fill="url(#g39)"/><path d="M1009.5 265.8L1022.1 260.7L1030.5 266.5L1017.9 271.6Z" fill="#5278f6"/><path d="M810.4 332.4L818.7 338.1L818.7 319.8L810.4 314.0ZM818.7 338.1L831.3 333.0L831.3 314.7L818.7 319.8Z" fill="url(#g40)"/><path d="M810.4 314.0L823.0 308.9L831.3 314.7L818.7 319.8Z" fill="#4440e8"/><path d="M1035.7 332.8L1044.1 338.6L1044.1 261.4L1035.7 255.6ZM1044.1 338.6L1056.7 333.5L1056.7 256.3L1044.1 261.4Z" fill="url(#g41)"/><path d="M1035.7 255.6L1048.3 250.5L1056.7 256.3L1044.1 261.4Z" fill="#5588f1"/><path d="M836.6 333.2L844.9 339.0L844.9 313.3L836.6 307.5ZM844.9 339.0L857.5 333.9L857.5 308.2L844.9 313.3Z" fill="url(#g42)"/><path d="M836.6 307.5L849.2 302.4L857.5 308.2L844.9 313.3Z" fill="#4647ec"/><path d="M1061.9 333.6L1070.3 339.4L1070.3 324.7L1061.9 318.9ZM1070.3 339.4L1082.9 334.3L1082.9 319.6L1070.3 324.7Z" fill="url(#g43)"/><path d="M1061.9 318.9L1074.5 313.8L1082.9 319.6L1070.3 324.7Z" fill="#433ee6"/><path d="M862.8 334.1L871.1 339.8L871.1 303.1L862.8 297.3ZM871.1 339.8L883.7 334.7L883.7 298.0L871.1 303.1Z" fill="url(#g44)"/><path d="M862.8 297.3L875.4 292.2L883.7 298.0L871.1 303.1Z" fill="#4a52f2"/><path d="M889.0 334.9L901.6 329.8L909.9 335.6L897.3 340.7Z" fill="#4034dc"/><path d="M915.2 335.8L923.5 341.5L923.5 297.4L915.2 291.7ZM923.5 341.5L936.1 336.4L936.1 292.3L923.5 297.4Z" fill="url(#g45)"/><path d="M915.2 291.7L927.8 286.6L936.1 292.3L923.5 297.4Z" fill="#4c5bf4"/><path d="M941.4 336.6L954.0 331.5L962.3 337.3L949.7 342.4Z" fill="#4034dc"/><path d="M967.6 337.5L975.9 343.2L975.9 251.4L967.6 245.6ZM975.9 343.2L988.5 338.1L988.5 246.3L975.9 251.4Z" fill="url(#g46)"/><path d="M967.6 245.6L980.2 240.5L988.5 246.3L975.9 251.4Z" fill="#5aa2e6"/><path d="M993.8 338.3L1002.1 344.1L1002.1 281.6L993.8 275.8ZM1002.1 344.1L1014.7 339.0L1014.7 276.5L1002.1 281.6Z" fill="url(#g47)"/><path d="M993.8 275.8L1006.4 270.7L1014.7 276.5L1002.1 281.6Z" fill="#5072f6"/><path d="M794.6 338.7L807.2 333.6L815.6 339.4L803.0 344.5Z" fill="#4034dc"/><path d="M1020.0 339.2L1028.3 344.9L1028.3 326.6L1020.0 320.8ZM1028.3 344.9L1040.9 339.8L1040.9 321.5L1028.3 326.6Z" fill="url(#g48)"/><path d="M1020.0 320.8L1032.6 315.7L1040.9 321.5L1028.3 326.6Z" fill="#4440e8"/><path d="M820.8 339.6L829.2 345.4L829.2 297.6L820.8 291.8ZM829.2 345.4L841.8 340.3L841.8 292.5L829.2 297.6Z" fill="url(#g49)"/><path d="M820.8 291.8L833.4 286.7L841.8 292.5L829.2 297.6Z" fill="#4c5ff6"/><path d="M1046.2 340.0L1054.5 345.8L1054.5 268.6L1046.2 262.8ZM1054.5 345.8L1067.1 340.7L1067.1 263.5L1054.5 268.6Z" fill="url(#g50)"/><path d="M1046.2 262.8L1058.8 257.7L1067.1 263.5L1054.5 268.6Z" fill="#5588f1"/><path d="M847.0 340.4L859.6 335.3L868.0 341.1L855.4 346.2Z" fill="#4034dc"/><path d="M1072.4 340.9L1085.0 335.8L1093.3 341.5L1080.7 346.6Z" fill="#4034dc"/><path d="M873.2 341.3L881.6 347.1L881.6 203.7L873.2 198.0ZM881.6 347.1L894.2 342.0L894.2 198.6L881.6 203.7Z" fill="url(#g51)"/><path d="M873.2 198.0L885.8 192.9L894.2 198.6L881.6 203.7Z" fill="#7ec996"/><path d="M899.4 342.1L907.8 347.9L907.8 181.8L899.4 176.0ZM907.8 347.9L920.4 342.8L920.4 176.7L907.8 181.8Z" fill="url(#g52)"/><path d="M899.4 176.0L912.0 170.9L920.4 176.7L907.8 181.8Z" fill="#aecd59"/><path d="M925.6 343.0L934.0 348.8L934.0 264.2L925.6 258.5ZM934.0 348.8L946.6 343.7L946.6 259.1L934.0 264.2Z" fill="url(#g53)"/><path d="M925.6 258.5L938.2 253.4L946.6 259.1L934.0 264.2Z" fill="#5895ec"/><path d="M951.8 343.8L960.2 349.6L960.2 334.9L951.8 329.1ZM960.2 349.6L972.8 344.5L972.8 329.8L960.2 334.9Z" fill="url(#g54)"/><path d="M951.8 329.1L964.4 324.0L972.8 329.8L960.2 334.9Z" fill="#433ee6"/><path d="M978.0 344.7L986.4 350.5L986.4 269.6L978.0 263.8ZM986.4 350.5L999.0 345.4L999.0 264.5L986.4 269.6Z" fill="url(#g55)"/><path d="M978.0 263.8L990.6 258.7L999.0 264.5L986.4 269.6Z" fill="#568fee"/><path d="M778.9 345.1L787.2 350.9L787.2 277.4L778.9 271.6ZM787.2 350.9L799.8 345.8L799.8 272.3L787.2 277.4Z" fill="url(#g56)"/><path d="M778.9 271.6L791.5 266.5L799.8 272.3L787.2 277.4Z" fill="#5482f4"/><path d="M1004.2 345.5L1012.6 351.3L1012.6 332.9L1004.2 327.2ZM1012.6 351.3L1025.2 346.2L1025.2 327.8L1012.6 332.9Z" fill="url(#g57)"/><path d="M1004.2 327.2L1016.8 322.1L1025.2 327.8L1012.6 332.9Z" fill="#4440e8"/><path d="M805.1 346.0L813.4 351.7L813.4 200.3L805.1 194.5ZM813.4 351.7L826.0 346.6L826.0 195.2L813.4 200.3Z" fill="url(#g58)"/><path d="M805.1 194.5L817.7 189.4L826.0 195.2L813.4 200.3Z" fill="#8ecb7f"/><path d="M1030.4 346.4L1038.8 352.2L1038.8 341.1L1030.4 335.4ZM1038.8 352.2L1051.4 347.1L1051.4 336.0L1038.8 341.1Z" fill="url(#g59)"/><path d="M1030.4 335.4L1043.0 330.3L1051.4 336.0L1038.8 341.1Z" fill="#423be3"/><path d="M831.3 346.8L843.9 341.7L852.2 347.5L839.6 352.6Z" fill="#4034dc"/><path d="M1056.6 347.2L1065.0 353.0L1065.0 290.5L1056.6 284.8ZM1065.0 353.0L1077.6 347.9L1077.6 285.4L1065.0 290.5Z" fill="url(#g60)"/><path d="M1056.6 284.8L1069.2 279.7L1077.6 285.4L1065.0 290.5Z" fill="#5072f6"/><path d="M857.5 347.7L870.1 342.6L878.4 348.3L865.8 353.4Z" fill="#4034dc"/><path d="M1082.8 348.1L1091.2 353.9L1091.2 317.1L1082.8 311.3ZM1091.2 353.9L1103.8 348.8L1103.8 312.0L1091.2 317.1Z" fill="url(#g61)"/><path d="M1082.8 311.3L1095.4 306.2L1103.8 312.0L1091.2 317.1Z" fill="#4a52f2"/><path d="M883.7 348.5L892.0 354.3L892.0 302.8L883.7 297.1ZM892.0 354.3L904.6 349.2L904.6 297.7L892.0 302.8Z" fill="url(#g62)"/><path d="M883.7 297.1L896.3 292.0L904.6 297.7L892.0 302.8Z" fill="#4d64f7"/><path d="M909.9 349.4L918.2 355.1L918.2 252.2L909.9 246.5ZM918.2 355.1L930.8 350.0L930.8 247.1L918.2 252.2Z" fill="url(#g63)"/><path d="M909.9 246.5L922.5 241.4L930.8 247.1L918.2 252.2Z" fill="#5fafda"/><path d="M936.1 350.2L944.4 356.0L944.4 326.6L936.1 320.8ZM944.4 356.0L957.0 350.9L957.0 321.5L944.4 326.6Z" fill="url(#g64)"/><path d="M936.1 320.8L948.7 315.7L957.0 321.5L944.4 326.6Z" fill="#484bee"/><path d="M962.3 351.1L974.9 346.0L983.2 351.7L970.6 356.8Z" fill="#4034dc"/><path d="M763.1 351.5L771.5 357.3L771.5 276.4L763.1 270.6ZM771.5 357.3L784.1 352.2L784.1 271.3L771.5 276.4Z" fill="url(#g65)"/><path d="M763.1 270.6L775.7 265.5L784.1 271.3L771.5 276.4Z" fill="#568fee"/><path d="M988.5 351.9L996.8 357.7L996.8 231.3L988.5 225.5ZM996.8 357.7L1009.4 352.6L1009.4 226.2L996.8 231.3Z" fill="url(#g66)"/><path d="M988.5 225.5L1001.1 220.4L1009.4 226.2L996.8 231.3Z" fill="#69c3bb"/><path d="M789.3 352.3L797.7 358.1L797.7 284.6L789.3 278.8ZM797.7 358.1L810.3 353.0L810.3 279.5L797.7 284.6Z" fill="url(#g67)"/><path d="M789.3 278.8L801.9 273.7L810.3 279.5L797.7 284.6Z" fill="#5482f4"/><path d="M1014.7 352.8L1023.0 358.5L1023.0 347.5L1014.7 341.7ZM1023.0 358.5L1035.6 353.4L1035.6 342.4L1023.0 347.5Z" fill="url(#g68)"/><path d="M1014.7 341.7L1027.3 336.6L1035.6 342.4L1023.0 347.5Z" fill="#423be3"/><path d="M815.5 353.2L823.9 359.0L823.9 253.1L815.5 247.3ZM823.9 359.0L836.5 353.9L836.5 248.0L823.9 253.1Z" fill="url(#g69)"/><path d="M815.5 247.3L828.1 242.2L836.5 248.0L823.9 253.1Z" fill="#60b3d7"/><path d="M1040.9 353.6L1053.5 348.5L1061.8 354.3L1049.2 359.4Z" fill="#4034dc"/><path d="M841.7 354.0L850.1 359.8L850.1 345.1L841.7 339.3ZM850.1 359.8L862.7 354.7L862.7 340.0L850.1 345.1Z" fill="url(#g70)"/><path d="M841.7 339.3L854.3 334.2L862.7 340.0L850.1 345.1Z" fill="#433ee6"/><path d="M1067.1 354.5L1075.4 360.2L1075.4 341.9L1067.1 336.1ZM1075.4 360.2L1088.0 355.1L1088.0 336.8L1075.4 341.9Z" fill="url(#g71)"/><path d="M1067.1 336.1L1079.7 331.0L1088.0 336.8L1075.4 341.9Z" fill="#4440e8"/><path d="M867.9 354.9L876.3 360.7L876.3 338.6L867.9 332.8ZM876.3 360.7L888.9 355.6L888.9 333.5L876.3 338.6Z" fill="url(#g72)"/><path d="M867.9 332.8L880.5 327.7L888.9 333.5L876.3 338.6Z" fill="#4544ea"/><path d="M1093.3 355.3L1101.6 361.1L1101.6 294.9L1093.3 289.2ZM1101.6 361.1L1114.2 356.0L1114.2 289.8L1101.6 294.9Z" fill="url(#g73)"/><path d="M1093.3 289.2L1105.9 284.1L1114.2 289.8L1101.6 294.9Z" fill="#5278f6"/><path d="M894.1 355.7L902.5 361.5L902.5 343.1L894.1 337.4ZM902.5 361.5L915.1 356.4L915.1 338.0L902.5 343.1Z" fill="url(#g74)"/><path d="M894.1 337.4L906.7 332.3L915.1 338.0L902.5 343.1Z" fill="#4440e8"/><path d="M920.3 356.6L928.7 362.4L928.7 307.2L920.3 301.4ZM928.7 362.4L941.3 357.3L941.3 302.1L928.7 307.2Z" fill="url(#g75)"/><path d="M920.3 301.4L932.9 296.4L941.3 302.1L928.7 307.2Z" fill="#4e68f8"/><path d="M946.5 357.4L954.9 363.2L954.9 260.3L946.5 254.5ZM954.9 363.2L967.5 358.1L967.5 255.2L954.9 260.3Z" fill="url(#g76)"/><path d="M946.5 254.5L959.1 249.4L967.5 255.2L954.9 260.3Z" fill="#5fafda"/><path d="M747.4 357.8L755.8 363.6L755.8 319.5L747.4 313.7ZM755.8 363.6L768.4 358.5L768.4 314.4L755.8 319.5Z" fill="url(#g77)"/><path d="M747.4 313.7L760.0 308.6L768.4 314.4L755.8 319.5Z" fill="#4c5bf4"/><path d="M972.7 358.3L981.1 364.1L981.1 301.6L972.7 295.8ZM981.1 364.1L993.7 359.0L993.7 296.5L981.1 301.6Z" fill="url(#g78)"/><path d="M972.7 295.8L985.3 290.7L993.7 296.5L981.1 301.6Z" fill="#5072f6"/><path d="M773.6 358.7L782.0 364.5L782.0 305.7L773.6 299.9ZM782.0 364.5L794.6 359.4L794.6 300.6L782.0 305.7Z" fill="url(#g79)"/><path d="M773.6 299.9L786.2 294.8L794.6 300.6L782.0 305.7Z" fill="#4f6df7"/><path d="M998.9 359.1L1007.3 364.9L1007.3 269.4L998.9 263.6ZM1007.3 364.9L1019.9 359.8L1019.9 264.3L1007.3 269.4Z" fill="url(#g80)"/><path d="M998.9 263.6L1011.5 258.5L1019.9 264.3L1007.3 269.4Z" fill="#5ca6e2"/><path d="M799.8 359.5L808.2 365.3L808.2 354.3L799.8 348.5ZM808.2 365.3L820.8 360.2L820.8 349.2L808.2 354.3Z" fill="url(#g81)"/><path d="M799.8 348.5L812.4 343.4L820.8 349.2L808.2 354.3Z" fill="#423be3"/><path d="M1025.1 360.0L1033.5 365.8L1033.5 295.9L1025.1 290.2ZM1033.5 365.8L1046.1 360.7L1046.1 290.8L1033.5 295.9Z" fill="url(#g82)"/><path d="M1025.1 290.2L1037.7 285.1L1046.1 290.8L1033.5 295.9Z" fill="#537df5"/><path d="M826.0 360.4L834.4 366.2L834.4 232.4L826.0 226.6ZM834.4 366.2L847.0 361.1L847.0 227.3L834.4 232.4Z" fill="url(#g83)"/><path d="M826.0 226.6L838.6 221.5L847.0 227.3L834.4 232.4Z" fill="#70c5ae"/><path d="M1051.3 360.8L1059.7 366.6L1059.7 198.3L1051.3 192.5ZM1059.7 366.6L1072.3 361.5L1072.3 193.2L1059.7 198.3Z" fill="url(#g84)"/><path d="M1051.3 192.5L1063.9 187.4L1072.3 193.2L1059.7 198.3Z" fill="#b2cd56"/><path d="M852.2 361.2L860.6 367.0L860.6 356.0L852.2 350.2ZM860.6 367.0L873.2 361.9L873.2 350.9L860.6 356.0Z" fill="url(#g85)"/><path d="M852.2 350.2L864.8 345.1L873.2 350.9L860.6 356.0Z" fill="#423be3"/><path d="M1077.5 361.7L1090.1 356.6L1098.5 362.4L1085.9 367.5Z" fill="#4034dc"/><path d="M878.4 362.1L886.8 367.9L886.8 338.5L878.4 332.7ZM886.8 367.9L899.4 362.8L899.4 333.4L886.8 338.5Z" fill="url(#g86)"/><path d="M878.4 332.7L891.0 327.6L899.4 333.4L886.8 338.5Z" fill="#484bee"/><path d="M1103.7 362.5L1112.1 368.3L1112.1 276.4L1103.7 270.6ZM1112.1 368.3L1124.7 363.2L1124.7 271.3L1112.1 276.4Z" fill="url(#g87)"/><path d="M1103.7 270.6L1116.3 265.6L1124.7 271.3L1112.1 276.4Z" fill="#5aa2e6"/><path d="M904.6 362.9L913.0 368.7L913.0 332.0L904.6 326.2ZM913.0 368.7L925.6 363.6L925.6 326.9L913.0 332.0Z" fill="url(#g88)"/><path d="M904.6 326.2L917.2 321.1L925.6 326.9L913.0 332.0Z" fill="#4a52f2"/><path d="M930.8 363.8L939.2 369.6L939.2 314.4L930.8 308.7ZM939.2 369.6L951.8 364.5L951.8 309.4L939.2 314.4Z" fill="url(#g89)"/><path d="M930.8 308.7L943.4 303.6L951.8 309.4L939.2 314.4Z" fill="#4e68f8"/><path d="M731.7 364.2L740.0 370.0L740.0 200.9L731.7 195.2ZM740.0 370.0L752.6 364.9L752.6 195.8L740.0 200.9Z" fill="url(#g90)"/><path d="M731.7 195.2L744.3 190.1L752.6 195.8L740.0 200.9Z" fill="#b4cc55"/><path d="M957.0 364.6L969.6 359.5L978.0 365.3L965.4 370.4Z" fill="#4034dc"/><path d="M757.9 365.1L766.2 370.8L766.2 267.9L757.9 262.2ZM766.2 370.8L778.8 365.7L778.8 262.8L766.2 267.9Z" fill="url(#g91)"/><path d="M757.9 262.2L770.5 257.1L778.8 262.8L766.2 267.9Z" fill="#5fafda"/><path d="M983.2 365.5L995.8 360.4L1004.2 366.2L991.6 371.3Z" fill="#4034dc"/><path d="M784.1 365.9L792.4 371.7L792.4 204.1L784.1 198.3ZM792.4 371.7L805.0 366.6L805.0 199.0L792.4 204.1Z" fill="url(#g92)"/><path d="M784.1 198.3L796.7 193.2L805.0 199.0L792.4 204.1Z" fill="#b1cd57"/><path d="M1009.4 366.3L1022.0 361.2L1030.4 367.0L1017.8 372.1Z" fill="#4034dc"/><path d="M810.3 366.8L818.6 372.5L818.6 269.6L810.3 263.9ZM818.6 372.5L831.2 367.4L831.2 264.5L818.6 269.6Z" fill="url(#g93)"/><path d="M810.3 263.9L822.9 258.8L831.2 264.5L818.6 269.6Z" fill="#5fafda"/><path d="M1035.6 367.2L1048.2 362.1L1056.6 367.9L1044.0 373.0Z" fill="#4034dc"/><path d="M836.5 367.6L844.8 373.4L844.8 303.6L836.5 297.8ZM844.8 373.4L857.4 368.3L857.4 298.5L844.8 303.6Z" fill="url(#g94)"/><path d="M836.5 297.8L849.1 292.7L857.4 298.5L844.8 303.6Z" fill="#537df5"/><path d="M1061.8 368.0L1074.4 362.9L1082.8 368.7L1070.2 373.8Z" fill="#4034dc"/><path d="M862.7 368.5L875.3 363.4L883.6 369.1L871.0 374.2Z" fill="#4034dc"/><path d="M1088.0 368.9L1100.6 363.8L1109.0 369.6L1096.4 374.7Z" fill="#4034dc"/><path d="M888.9 369.3L897.2 375.1L897.2 235.4L888.9 229.7ZM897.2 375.1L909.8 370.0L909.8 230.3L897.2 235.4Z" fill="url(#g95)"/><path d="M888.9 229.7L901.5 224.6L909.8 230.3L897.2 235.4Z" fill="#78c7a0"/><path d="M1114.2 369.7L1122.6 375.5L1122.6 239.5L1114.2 233.8ZM1122.6 375.5L1135.2 370.4L1135.2 234.4L1122.6 239.5Z" fill="url(#g96)"/><path d="M1114.2 233.8L1126.8 228.7L1135.2 234.4L1122.6 239.5Z" fill="#72c6aa"/><path d="M915.1 370.2L927.7 365.1L936.0 370.8L923.4 375.9Z" fill="#4034dc"/><path d="M715.9 370.6L724.3 376.4L724.3 269.8L715.9 264.0ZM724.3 376.4L736.9 371.3L736.9 264.7L724.3 269.8Z" fill="url(#g97)"/><path d="M715.9 264.0L728.5 258.9L736.9 264.7L724.3 269.8Z" fill="#60b4d6"/><path d="M941.3 371.0L949.6 376.8L949.6 281.2L941.3 275.5ZM949.6 376.8L962.2 371.7L962.2 276.1L949.6 281.2Z" fill="url(#g98)"/><path d="M941.3 275.5L953.9 270.4L962.2 276.1L949.6 281.2Z" fill="#5ca6e2"/><path d="M742.1 371.4L750.5 377.2L750.5 347.8L742.1 342.0ZM750.5 377.2L763.1 372.1L763.1 342.7L750.5 347.8Z" fill="url(#g99)"/><path d="M742.1 342.0L754.7 336.9L763.1 342.7L750.5 347.8Z" fill="#484bee"/><path d="M967.5 371.9L975.8 377.6L975.8 318.8L967.5 313.1ZM975.8 377.6L988.4 372.5L988.4 313.7L975.8 318.8Z" fill="url(#g100)"/><path d="M967.5 313.1L980.1 308.0L988.4 313.7L975.8 318.8Z" fill="#4f6df7"/><path d="M768.3 372.3L776.7 378.1L776.7 334.0L768.3 328.2ZM776.7 378.1L789.3 373.0L789.3 328.9L776.7 334.0Z" fill="url(#g101)"/><path d="M768.3 328.2L780.9 323.1L789.3 328.9L776.7 334.0Z" fill="#4c5bf4"/><path d="M993.7 372.7L1002.0 378.5L1002.0 253.5L993.7 247.8ZM1002.0 378.5L1014.6 373.4L1014.6 248.4L1002.0 253.5Z" fill="url(#g102)"/><path d="M993.7 247.8L1006.3 242.7L1014.6 248.4L1002.0 253.5Z" fill="#68c2be"/><path d="M794.5 373.1L802.9 378.9L802.9 349.5L794.5 343.7ZM802.9 378.9L815.5 373.8L815.5 344.4L802.9 349.5Z" fill="url(#g103)"/><path d="M794.5 343.7L807.1 338.6L815.5 344.4L802.9 349.5Z" fill="#484bee"/><path d="M1019.9 373.6L1028.2 379.3L1028.2 316.9L1019.9 311.1ZM1028.2 379.3L1040.8 374.2L1040.8 311.8L1028.2 316.9Z" fill="url(#g104)"/><path d="M1019.9 311.1L1032.5 306.0L1040.8 311.8L1028.2 316.9Z" fill="#5072f6"/><path d="M820.7 374.0L829.1 379.8L829.1 365.1L820.7 359.3ZM829.1 379.8L841.7 374.7L841.7 360.0L829.1 365.1Z" fill="url(#g105)"/><path d="M820.7 359.3L833.3 354.2L841.7 360.0L829.1 365.1Z" fill="#433ee6"/><path d="M1046.1 374.4L1054.4 380.2L1054.4 295.7L1046.1 289.9ZM1054.4 380.2L1067.0 375.1L1067.0 290.6L1054.4 295.7Z" fill="url(#g106)"/><path d="M1046.1 289.9L1058.7 284.8L1067.0 290.6L1054.4 295.7Z" fill="#5895ec"/><path d="M846.9 374.8L855.3 380.6L855.3 285.1L846.9 279.3ZM855.3 380.6L867.9 375.5L867.9 280.0L855.3 285.1Z" fill="url(#g107)"/><path d="M846.9 279.3L859.5 274.2L867.9 280.0L855.3 285.1Z" fill="#5ca6e2"/><path d="M1072.3 375.3L1080.6 381.0L1080.6 359.0L1072.3 353.2ZM1080.6 381.0L1093.2 375.9L1093.2 353.9L1080.6 359.0Z" fill="url(#g108)"/><path d="M1072.3 353.2L1084.9 348.1L1093.2 353.9L1080.6 359.0Z" fill="#4544ea"/><path d="M873.1 375.7L881.5 381.5L881.5 308.0L873.1 302.2ZM881.5 381.5L894.1 376.4L894.1 302.9L881.5 308.0Z" fill="url(#g109)"/><path d="M873.1 302.2L885.7 297.1L894.1 302.9L881.5 308.0Z" fill="#5482f4"/><path d="M1098.5 376.1L1111.1 371.0L1119.4 376.8L1106.8 381.9Z" fill="#4034dc"/><path d="M899.3 376.5L911.9 371.4L920.3 377.2L907.7 382.3Z" fill="#4034dc"/><path d="M1124.7 377.0L1133.0 382.7L1133.0 368.0L1124.7 362.3ZM1133.0 382.7L1145.6 377.6L1145.6 362.9L1133.0 368.0Z" fill="url(#g110)"/><path d="M1124.7 362.3L1137.3 357.2L1145.6 362.9L1133.0 368.0Z" fill="#433ee6"/><path d="M925.5 377.4L933.9 383.2L933.9 361.1L925.5 355.3ZM933.9 383.2L946.5 378.1L946.5 356.0L933.9 361.1Z" fill="url(#g111)"/><path d="M925.5 355.3L938.1 350.2L946.5 356.0L933.9 361.1Z" fill="#4544ea"/><path d="M726.4 377.8L734.7 383.6L734.7 302.0L726.4 296.2ZM734.7 383.6L747.3 378.5L747.3 296.9L734.7 302.0Z" fill="url(#g112)"/><path d="M726.4 296.2L739.0 291.1L747.3 296.9L734.7 302.0Z" fill="#5790ee"/><path d="M951.7 378.2L960.1 384.0L960.1 358.3L951.7 352.5ZM960.1 384.0L972.7 378.9L972.7 353.2L960.1 358.3Z" fill="url(#g113)"/><path d="M951.7 352.5L964.3 347.4L972.7 353.2L960.1 358.3Z" fill="#4647ec"/><path d="M752.6 378.7L760.9 384.4L760.9 255.8L752.6 250.0ZM760.9 384.4L773.5 379.3L773.5 250.7L760.9 255.8Z" fill="url(#g114)"/><path d="M752.6 250.0L765.2 244.9L773.5 250.7L760.9 255.8Z" fill="#6bc3b7"/><path d="M977.9 379.1L990.5 374.0L998.9 379.8L986.3 384.9Z" fill="#4034dc"/><path d="M778.8 379.5L787.1 385.3L787.1 366.9L778.8 361.1ZM787.1 385.3L799.7 380.2L799.7 361.8L787.1 366.9Z" fill="url(#g115)"/><path d="M778.8 361.1L791.4 356.0L799.7 361.8L787.1 366.9Z" fill="#4440e8"/><path d="M1004.1 379.9L1012.5 385.7L1012.5 360.0L1004.1 354.2ZM1012.5 385.7L1025.1 380.6L1025.1 354.9L1012.5 360.0Z" fill="url(#g116)"/><path d="M1004.1 354.2L1016.7 349.1L1025.1 354.9L1012.5 360.0Z" fill="#4647ec"/><path d="M805.0 380.4L813.3 386.1L813.3 364.1L805.0 358.3ZM813.3 386.1L825.9 381.0L825.9 359.0L813.3 364.1Z" fill="url(#g117)"/><path d="M805.0 358.3L817.6 353.2L825.9 359.0L813.3 364.1Z" fill="#4544ea"/><path d="M1030.3 380.8L1038.7 386.6L1038.7 320.4L1030.3 314.6ZM1038.7 386.6L1051.3 381.5L1051.3 315.3L1038.7 320.4Z" fill="url(#g118)"/><path d="M1030.3 314.6L1042.9 309.5L1051.3 315.3L1038.7 320.4Z" fill="#5278f6"/><path d="M831.2 381.2L839.5 387.0L839.5 313.5L831.2 307.7ZM839.5 387.0L852.1 381.9L852.1 308.4L839.5 313.5Z" fill="url(#g119)"/><path d="M831.2 307.7L843.8 302.6L852.1 308.4L839.5 313.5Z" fill="#5482f4"/><path d="M1056.5 381.6L1064.9 387.4L1064.9 365.4L1056.5 359.6ZM1064.9 387.4L1077.5 382.3L1077.5 360.3L1064.9 365.4Z" fill="url(#g120)"/><path d="M1056.5 359.6L1069.1 354.5L1077.5 360.3L1064.9 365.4Z" fill="#4544ea"/><path d="M857.4 382.1L865.7 387.8L865.7 343.7L857.4 338.0ZM865.7 387.8L878.3 382.7L878.3 338.6L865.7 343.7Z" fill="url(#g121)"/><path d="M857.4 338.0L870.0 332.9L878.3 338.6L865.7 343.7Z" fill="#4c5bf4"/><path d="M1082.7 382.5L1091.1 388.3L1091.1 258.9L1082.7 253.1ZM1091.1 388.3L1103.7 383.2L1103.7 253.8L1091.1 258.9Z" fill="url(#g122)"/><path d="M1082.7 253.1L1095.3 248.0L1103.7 253.8L1091.1 258.9Z" fill="#6cc4b6"/><path d="M883.6 382.9L896.2 377.8L904.5 383.6L891.9 388.7Z" fill="#4034dc"/><path d="M1108.9 383.3L1121.5 378.2L1129.9 384.0L1117.3 389.1Z" fill="#4034dc"/><path d="M909.8 383.8L922.4 378.7L930.7 384.4L918.1 389.5Z" fill="#4034dc"/><path d="M1135.1 384.2L1143.5 390.0L1143.5 287.1L1135.1 281.3ZM1143.5 390.0L1156.1 384.9L1156.1 282.0L1143.5 287.1Z" fill="url(#g123)"/><path d="M1135.1 281.3L1147.7 276.2L1156.1 282.0L1143.5 287.1Z" fill="#5fafda"/><path d="M936.0 384.6L944.3 390.4L944.3 372.0L936.0 366.2ZM944.3 390.4L956.9 385.3L956.9 366.9L944.3 372.0Z" fill="url(#g124)"/><path d="M936.0 366.2L948.6 361.1L956.9 366.9L944.3 372.0Z" fill="#4440e8"/><path d="M736.8 385.0L745.2 390.8L745.2 343.0L736.8 337.2ZM745.2 390.8L757.8 385.7L757.8 337.9L745.2 343.0Z" fill="url(#g125)"/><path d="M736.8 337.2L749.4 332.2L757.8 337.9L745.2 343.0Z" fill="#4c5ff6"/><path d="M962.2 385.5L974.8 380.4L983.1 386.1L970.5 391.2Z" fill="#4034dc"/><path d="M763.0 385.9L775.6 380.8L784.0 386.6L771.4 391.7Z" fill="#4034dc"/><path d="M988.4 386.3L1001.0 381.2L1009.3 387.0L996.7 392.1Z" fill="#4034dc"/><path d="M789.2 386.7L797.6 392.5L797.6 289.6L789.2 283.8ZM797.6 392.5L810.2 387.4L810.2 284.5L797.6 289.6Z" fill="url(#g126)"/><path d="M789.2 283.8L801.8 278.7L810.2 284.5L797.6 289.6Z" fill="#5fafda"/><path d="M1014.6 387.2L1022.9 392.9L1022.9 259.2L1014.6 253.4ZM1022.9 392.9L1035.5 387.8L1035.5 254.1L1022.9 259.2Z" fill="url(#g127)"/><path d="M1014.6 253.4L1027.2 248.3L1035.5 254.1L1022.9 259.2Z" fill="#70c5ae"/><path d="M815.4 387.6L823.8 393.4L823.8 364.0L815.4 358.2ZM823.8 393.4L836.4 388.3L836.4 358.9L823.8 364.0Z" fill="url(#g128)"/><path d="M815.4 358.2L828.0 353.1L836.4 358.9L823.8 364.0Z" fill="#484bee"/><path d="M1040.8 388.0L1049.1 393.8L1049.1 264.4L1040.8 258.6ZM1049.1 393.8L1061.7 388.7L1061.7 259.3L1049.1 264.4Z" fill="url(#g129)"/><path d="M1040.8 258.6L1053.4 253.5L1061.7 259.3L1049.1 264.4Z" fill="#6cc4b6"/><path d="M841.6 388.4L854.2 383.3L862.6 389.1L850.0 394.2Z" fill="#4034dc"/><path d="M1067.0 388.9L1075.3 394.6L1075.3 216.8L1067.0 211.0ZM1075.3 394.6L1087.9 389.5L1087.9 211.7L1075.3 216.8Z" fill="url(#g130)"/><path d="M1067.0 211.0L1079.6 205.9L1087.9 211.7L1075.3 216.8Z" fill="#c7ca47"/><path d="M867.8 389.3L876.2 395.1L876.2 343.6L867.8 337.8ZM876.2 395.1L888.8 390.0L888.8 338.5L876.2 343.6Z" fill="url(#g131)"/><path d="M867.8 337.8L880.4 332.7L888.8 338.5L876.2 343.6Z" fill="#4d64f7"/><path d="M1093.2 389.7L1101.5 395.5L1101.5 362.4L1093.2 356.6ZM1101.5 395.5L1114.1 390.4L1114.1 357.3L1101.5 362.4Z" fill="url(#g132)"/><path d="M1093.2 356.6L1105.8 351.5L1114.1 357.3L1101.5 362.4Z" fill="#494ef0"/><path d="M894.0 390.1L902.4 395.9L902.4 300.4L894.0 294.6ZM902.4 395.9L915.0 390.8L915.0 295.3L902.4 300.4Z" fill="url(#g133)"/><path d="M894.0 294.6L906.6 289.5L915.0 295.3L902.4 300.4Z" fill="#5ca6e2"/><path d="M1119.4 390.6L1127.7 396.3L1127.7 370.6L1119.4 364.8ZM1127.7 396.3L1140.3 391.2L1140.3 365.5L1127.7 370.6Z" fill="url(#g134)"/><path d="M1119.4 364.8L1132.0 359.7L1140.3 365.5L1127.7 370.6Z" fill="#4647ec"/><path d="M920.2 391.0L928.6 396.8L928.6 203.4L920.2 197.7ZM928.6 396.8L941.2 391.7L941.2 198.4L928.6 203.4Z" fill="url(#g135)"/><path d="M920.2 197.7L932.8 192.6L941.2 198.4L928.6 203.4Z" fill="#e5c144"/><path d="M1145.6 391.4L1153.9 397.2L1153.9 360.4L1145.6 354.7ZM1153.9 397.2L1166.5 392.1L1166.5 355.3L1153.9 360.4Z" fill="url(#g136)"/><path d="M1145.6 354.7L1158.2 349.6L1166.5 355.3L1153.9 360.4Z" fill="#4a52f2"/><path d="M946.4 391.8L954.8 397.6L954.8 229.3L946.4 223.5ZM954.8 397.6L967.4 392.5L967.4 224.2L954.8 229.3Z" fill="url(#g137)"/><path d="M946.4 223.5L959.0 218.4L967.4 224.2L954.8 229.3Z" fill="#b2cd56"/><path d="M747.3 392.2L755.7 398.0L755.7 333.3L747.3 327.6ZM755.7 398.0L768.3 392.9L768.3 328.2L755.7 333.3Z" fill="url(#g138)"/><path d="M747.3 327.6L759.9 322.5L768.3 328.2L755.7 333.3Z" fill="#5176f6"/><path d="M972.6 392.7L981.0 398.5L981.0 154.4L972.6 148.7ZM981.0 398.5L993.6 393.4L993.6 149.3L981.0 154.4Z" fill="url(#g139)"/><path d="M972.6 148.7L985.2 143.6L993.6 149.3L981.0 154.4Z" fill="#f6f03c"/><path d="M773.5 393.1L781.9 398.9L781.9 362.1L773.5 356.3ZM781.9 398.9L794.5 393.8L794.5 357.0L781.9 362.1Z" fill="url(#g140)"/><path d="M773.5 356.3L786.1 351.2L794.5 357.0L781.9 362.1Z" fill="#4a52f2"/><path d="M998.8 393.5L1007.2 399.3L1007.2 312.6L998.8 306.8ZM1007.2 399.3L1019.8 394.2L1019.8 307.5L1007.2 312.6Z" fill="url(#g141)"/><path d="M998.8 306.8L1011.4 301.7L1019.8 307.5L1007.2 312.6Z" fill="#5899ea"/><path d="M799.7 393.9L812.3 388.8L820.7 394.6L808.1 399.7Z" fill="#4034dc"/><path d="M1025.0 394.4L1037.6 389.3L1046.0 395.1L1033.4 400.2Z" fill="#4034dc"/><path d="M825.9 394.8L834.3 400.6L834.3 238.9L825.9 233.1ZM834.3 400.6L846.9 395.5L846.9 233.8L834.3 238.9Z" fill="url(#g142)"/><path d="M825.9 233.1L838.5 228.0L846.9 233.8L834.3 238.9Z" fill="#a4ce60"/><path d="M1051.2 395.2L1059.6 401.0L1059.6 334.9L1051.2 329.1ZM1059.6 401.0L1072.2 395.9L1072.2 329.8L1059.6 334.9Z" fill="url(#g143)"/><path d="M1051.2 329.1L1063.8 324.0L1072.2 329.8L1059.6 334.9Z" fill="#5278f6"/><path d="M852.1 395.6L860.5 401.4L860.5 320.6L852.1 314.8ZM860.5 401.4L873.1 396.3L873.1 315.5L860.5 320.6Z" fill="url(#g144)"/><path d="M852.1 314.8L864.7 309.7L873.1 315.5L860.5 320.6Z" fill="#568fee"/><path d="M1077.4 396.1L1085.8 401.9L1085.8 387.2L1077.4 381.4ZM1085.8 401.9L1098.4 396.8L1098.4 382.1L1085.8 387.2Z" fill="url(#g145)"/><path d="M1077.4 381.4L1090.0 376.3L1098.4 382.1L1085.8 387.2Z" fill="#433ee6"/><path d="M878.3 396.5L886.7 402.3L886.7 376.5L878.3 370.8ZM886.7 402.3L899.3 397.2L899.3 371.4L886.7 376.5Z" fill="url(#g146)"/><path d="M878.3 370.8L890.9 365.7L899.3 371.4L886.7 376.5Z" fill="#4647ec"/><path d="M1103.6 396.9L1112.0 402.7L1112.0 252.0L1103.6 246.3ZM1112.0 402.7L1124.6 397.6L1124.6 246.9L1112.0 252.0Z" fill="url(#g147)"/><path d="M1103.6 246.3L1116.2 241.2L1124.6 246.9L1112.0 252.0Z" fill="#8ccb81"/><path d="M904.5 397.3L912.9 403.1L912.9 388.4L904.5 382.6ZM912.9 403.1L925.5 398.0L925.5 383.3L912.9 388.4Z" fill="url(#g148)"/><path d="M904.5 382.6L917.1 377.5L925.5 383.3L912.9 388.4Z" fill="#433ee6"/><path d="M1129.8 397.8L1138.2 403.6L1138.2 363.1L1129.8 357.3ZM1138.2 403.6L1150.8 398.5L1150.8 358.0L1138.2 363.1Z" fill="url(#g149)"/><path d="M1129.8 357.3L1142.4 352.3L1150.8 358.0L1138.2 363.1Z" fill="#4b56f3"/><path d="M930.7 398.2L939.1 404.0L939.1 334.1L930.7 328.4ZM939.1 404.0L951.7 398.9L951.7 329.1L939.1 334.1Z" fill="url(#g150)"/><path d="M930.7 328.4L943.3 323.3L951.7 329.1L939.1 334.1Z" fill="#537df5"/><path d="M1156.0 398.6L1164.4 404.4L1164.4 367.7L1156.0 361.9ZM1164.4 404.4L1177.0 399.3L1177.0 362.6L1164.4 367.7Z" fill="url(#g151)"/><path d="M1156.0 361.9L1168.6 356.8L1177.0 362.6L1164.4 367.7Z" fill="#4a52f2"/><path d="M956.9 399.0L969.5 393.9L977.9 399.7L965.3 404.8Z" fill="#4034dc"/><path d="M757.8 399.5L766.1 405.2L766.1 320.7L757.8 314.9ZM766.1 405.2L778.7 400.1L778.7 315.6L766.1 320.7Z" fill="url(#g152)"/><path d="M757.8 314.9L770.4 309.8L778.7 315.6L766.1 320.7Z" fill="#5895ec"/><path d="M983.1 399.9L995.7 394.8L1004.1 400.6L991.5 405.7Z" fill="#4034dc"/><path d="M784.0 400.3L792.3 406.1L792.3 387.7L784.0 381.9ZM792.3 406.1L804.9 401.0L804.9 382.6L792.3 387.7Z" fill="url(#g153)"/><path d="M784.0 381.9L796.6 376.8L804.9 382.6L792.3 387.7Z" fill="#4440e8"/><path d="M1009.3 400.7L1017.7 406.5L1017.7 288.9L1009.3 283.1ZM1017.7 406.5L1030.3 401.4L1030.3 283.8L1017.7 288.9Z" fill="url(#g154)"/><path d="M1009.3 283.1L1021.9 278.0L1030.3 283.8L1017.7 288.9Z" fill="#65bdc8"/><path d="M810.2 401.2L822.8 396.1L831.1 401.8L818.5 406.9Z" fill="#4034dc"/><path d="M1035.5 401.6L1043.9 407.4L1043.9 359.6L1035.5 353.8ZM1043.9 407.4L1056.5 402.3L1056.5 354.5L1043.9 359.6Z" fill="url(#g155)"/><path d="M1035.5 353.8L1048.1 348.7L1056.5 354.5L1043.9 359.6Z" fill="#4c5ff6"/><path d="M836.4 402.0L844.7 407.8L844.7 196.1L836.4 190.3ZM844.7 407.8L857.3 402.7L857.3 191.0L844.7 196.1Z" fill="url(#g156)"/><path d="M836.4 190.3L849.0 185.2L857.3 191.0L844.7 196.1Z" fill="#f2c647"/><path d="M1061.7 402.4L1070.1 408.2L1070.1 305.3L1061.7 299.5ZM1070.1 408.2L1082.7 403.1L1082.7 300.2L1070.1 305.3Z" fill="url(#g157)"/><path d="M1061.7 299.5L1074.3 294.4L1082.7 300.2L1070.1 305.3Z" fill="#5fafda"/><path d="M862.6 402.9L875.2 397.8L883.5 403.5L870.9 408.6Z" fill="#4034dc"/><path d="M1087.9 403.3L1096.3 409.1L1096.3 276.8L1087.9 271.0ZM1096.3 409.1L1108.9 404.0L1108.9 271.7L1096.3 276.8Z" fill="url(#g158)"/><path d="M1087.9 271.0L1100.5 265.9L1108.9 271.7L1096.3 276.8Z" fill="#6fc5b1"/><path d="M888.8 403.7L897.1 409.5L897.1 398.5L888.8 392.7ZM897.1 409.5L909.7 404.4L909.7 393.4L897.1 398.5Z" fill="url(#g159)"/><path d="M888.8 392.7L901.4 387.6L909.7 393.4L897.1 398.5Z" fill="#423be3"/><path d="M1114.1 404.1L1122.5 409.9L1122.5 310.7L1114.1 304.9ZM1122.5 409.9L1135.1 404.8L1135.1 305.6L1122.5 310.7Z" fill="url(#g160)"/><path d="M1114.1 304.9L1126.7 299.8L1135.1 305.6L1122.5 310.7Z" fill="#5dabde"/><path d="M915.0 404.6L923.3 410.3L923.3 314.8L915.0 309.0ZM923.3 410.3L935.9 405.2L935.9 309.7L923.3 314.8Z" fill="url(#g161)"/><path d="M915.0 309.0L927.6 303.9L935.9 309.7L923.3 314.8Z" fill="#5ca6e2"/><path d="M1140.3 405.0L1148.7 410.8L1148.7 392.4L1140.3 386.6ZM1148.7 410.8L1161.3 405.7L1161.3 387.3L1148.7 392.4Z" fill="url(#g162)"/><path d="M1140.3 386.6L1152.9 381.5L1161.3 387.3L1148.7 392.4Z" fill="#4440e8"/><path d="M941.2 405.4L949.5 411.2L949.5 367.1L941.2 361.3ZM949.5 411.2L962.1 406.1L962.1 362.0L949.5 367.1Z" fill="url(#g163)"/><path d="M941.2 361.3L953.8 356.2L962.1 362.0L949.5 367.1Z" fill="#4c5bf4"/><path d="M1166.5 405.8L1174.9 411.6L1174.9 374.9L1166.5 369.1ZM1174.9 411.6L1187.5 406.5L1187.5 369.8L1174.9 374.9Z" fill="url(#g164)"/><path d="M1166.5 369.1L1179.1 364.0L1187.5 369.8L1174.9 374.9Z" fill="#4a52f2"/><path d="M967.4 406.3L975.7 412.0L975.7 325.3L967.4 319.5ZM975.7 412.0L988.3 406.9L988.3 320.2L975.7 325.3Z" fill="url(#g165)"/><path d="M967.4 319.5L980.0 314.4L988.3 320.2L975.7 325.3Z" fill="#5899ea"/><path d="M768.2 406.7L780.8 401.6L789.2 407.4L776.6 412.5Z" fill="#4034dc"/><path d="M993.6 407.1L1006.2 402.0L1014.5 407.8L1001.9 412.9Z" fill="#4034dc"/><path d="M794.4 407.5L802.8 413.3L802.8 343.5L794.4 337.7ZM802.8 413.3L815.4 408.2L815.4 338.4L802.8 343.5Z" fill="url(#g166)"/><path d="M794.4 337.7L807.0 332.6L815.4 338.4L802.8 343.5Z" fill="#537df5"/><path d="M1019.8 408.0L1032.4 402.9L1040.7 408.6L1028.1 413.7Z" fill="#4034dc"/><path d="M820.6 408.4L829.0 414.2L829.0 318.6L820.6 312.8ZM829.0 414.2L841.6 409.1L841.6 313.5L829.0 318.6Z" fill="url(#g167)"/><path d="M820.6 312.8L833.2 307.7L841.6 313.5L829.0 318.6Z" fill="#5ca6e2"/><path d="M1046.0 408.8L1054.3 414.6L1054.3 324.9L1046.0 319.1ZM1054.3 414.6L1066.9 409.5L1066.9 319.8L1054.3 324.9Z" fill="url(#g168)"/><path d="M1046.0 319.1L1058.6 314.0L1066.9 319.8L1054.3 324.9Z" fill="#599ee8"/><path d="M846.8 409.2L859.4 404.1L867.8 409.9L855.2 415.0Z" fill="#4034dc"/><path d="M1072.2 409.7L1080.5 415.4L1080.5 371.3L1072.2 365.6ZM1080.5 415.4L1093.1 410.3L1093.1 366.2L1080.5 371.3Z" fill="url(#g169)"/><path d="M1072.2 365.6L1084.8 360.5L1093.1 366.2L1080.5 371.3Z" fill="#4c5bf4"/><path d="M873.0 410.1L885.6 405.0L894.0 410.8L881.4 415.9Z" fill="#4034dc"/><path d="M1098.4 410.5L1106.7 416.3L1106.7 328.1L1098.4 322.3ZM1106.7 416.3L1119.3 411.2L1119.3 323.0L1106.7 328.1Z" fill="url(#g170)"/><path d="M1098.4 322.3L1111.0 317.2L1119.3 323.0L1106.7 328.1Z" fill="#599ce9"/><path d="M899.2 410.9L907.6 416.7L907.6 275.6L899.2 269.8ZM907.6 416.7L920.2 411.6L920.2 270.5L907.6 275.6Z" fill="url(#g171)"/><path d="M899.2 269.8L911.8 264.7L920.2 270.5L907.6 275.6Z" fill="#7ac89c"/><path d="M1124.6 411.4L1137.2 406.3L1145.5 412.0L1132.9 417.1Z" fill="#4034dc"/><path d="M925.4 411.8L933.8 417.6L933.8 399.2L925.4 393.4ZM933.8 417.6L946.4 412.5L946.4 394.1L933.8 399.2Z" fill="url(#g172)"/><path d="M925.4 393.4L938.0 388.3L946.4 394.1L933.8 399.2Z" fill="#4440e8"/><path d="M1150.8 412.2L1163.4 407.1L1171.7 412.9L1159.1 418.0Z" fill="#4034dc"/><path d="M951.6 412.6L960.0 418.4L960.0 299.3L951.6 293.6ZM960.0 418.4L972.6 413.3L972.6 294.2L960.0 299.3Z" fill="url(#g173)"/><path d="M951.6 293.6L964.2 288.5L972.6 294.2L960.0 299.3Z" fill="#66bec6"/><path d="M1177.0 413.1L1189.6 408.0L1197.9 413.7L1185.3 418.8Z" fill="#4034dc"/><path d="M977.8 413.5L986.2 419.3L986.2 288.4L977.8 282.7ZM986.2 419.3L998.8 414.2L998.8 283.3L986.2 288.4Z" fill="url(#g174)"/><path d="M977.8 282.7L990.4 277.6L998.8 283.3L986.2 288.4Z" fill="#6dc4b3"/><path d="M778.7 413.9L787.0 419.7L787.0 340.3L778.7 334.5ZM787.0 419.7L799.6 414.6L799.6 335.2L787.0 340.3Z" fill="url(#g175)"/><path d="M778.7 334.5L791.3 329.4L799.6 335.2L787.0 340.3Z" fill="#568cf0"/><path d="M1004.0 414.3L1016.6 409.2L1025.0 415.0L1012.4 420.1Z" fill="#4034dc"/><path d="M804.9 414.8L813.2 420.5L813.2 295.6L804.9 289.8ZM813.2 420.5L825.8 415.4L825.8 290.5L813.2 295.6Z" fill="url(#g176)"/><path d="M804.9 289.8L817.5 284.7L825.8 290.5L813.2 295.6Z" fill="#68c2be"/><path d="M1030.2 415.2L1042.8 410.1L1051.2 415.9L1038.6 421.0Z" fill="#4034dc"/><path d="M831.1 415.6L843.7 410.5L852.0 416.3L839.4 421.4Z" fill="#4034dc"/><path d="M1056.4 416.0L1069.0 410.9L1077.4 416.7L1064.8 421.8Z" fill="#4034dc"/><path d="M857.3 416.5L865.6 422.2L865.6 370.8L857.3 365.0ZM865.6 422.2L878.2 417.1L878.2 365.7L865.6 370.8Z" fill="url(#g177)"/><path d="M857.3 365.0L869.9 359.9L878.2 365.7L865.6 370.8Z" fill="#4d64f7"/><path d="M1082.6 416.9L1091.0 422.7L1091.0 338.1L1082.6 332.4ZM1091.0 422.7L1103.6 417.6L1103.6 333.0L1091.0 338.1Z" fill="url(#g178)"/><path d="M1082.6 332.4L1095.2 327.3L1103.6 333.0L1091.0 338.1Z" fill="#5895ec"/><path d="M883.5 417.3L891.8 423.1L891.8 390.0L883.5 384.2ZM891.8 423.1L904.4 418.0L904.4 384.9L891.8 390.0Z" fill="url(#g179)"/><path d="M883.5 384.2L896.1 379.1L904.4 384.9L891.8 390.0Z" fill="#494ef0"/><path d="M1108.8 417.7L1117.2 423.5L1117.2 339.0L1108.8 333.2ZM1117.2 423.5L1129.8 418.4L1129.8 333.9L1117.2 339.0Z" fill="url(#g180)"/><path d="M1108.8 333.2L1121.4 328.1L1129.8 333.9L1117.2 339.0Z" fill="#5895ec"/><path d="M909.7 418.2L918.0 423.9L918.0 405.6L909.7 399.8ZM918.0 423.9L930.6 418.8L930.6 400.5L918.0 405.6Z" fill="url(#g181)"/><path d="M909.7 399.8L922.3 394.7L930.6 400.5L918.0 405.6Z" fill="#4440e8"/><path d="M1135.0 418.6L1143.4 424.4L1143.4 383.9L1135.0 378.2ZM1143.4 424.4L1156.0 419.3L1156.0 378.8L1143.4 383.9Z" fill="url(#g182)"/><path d="M1135.0 378.2L1147.6 373.1L1156.0 378.8L1143.4 383.9Z" fill="#4b56f3"/><path d="M935.9 419.0L944.2 424.8L944.2 329.2L935.9 323.5ZM944.2 424.8L956.8 419.7L956.8 324.1L944.2 329.2Z" fill="url(#g183)"/><path d="M935.9 323.5L948.5 318.4L956.8 324.1L944.2 329.2Z" fill="#5ca6e2"/><path d="M1161.2 419.4L1169.6 425.2L1169.6 392.1L1161.2 386.4ZM1169.6 425.2L1182.2 420.1L1182.2 387.0L1169.6 392.1Z" fill="url(#g184)"/><path d="M1161.2 386.4L1173.8 381.3L1182.2 387.0L1169.6 392.1Z" fill="#494ef0"/><path d="M962.1 419.9L970.4 425.6L970.4 381.5L962.1 375.8ZM970.4 425.6L983.0 420.5L983.0 376.4L970.4 381.5Z" fill="url(#g185)"/><path d="M962.1 375.8L974.7 370.7L983.0 376.4L970.4 381.5Z" fill="#4c5bf4"/><path d="M1187.4 420.3L1195.8 426.1L1195.8 389.3L1187.4 383.5ZM1195.8 426.1L1208.4 421.0L1208.4 384.2L1195.8 389.3Z" fill="url(#g186)"/><path d="M1187.4 383.5L1200.0 378.4L1208.4 384.2L1195.8 389.3Z" fill="#4a52f2"/><path d="M988.3 420.7L996.6 426.5L996.6 397.1L988.3 391.3ZM996.6 426.5L1009.2 421.4L1009.2 392.0L996.6 397.1Z" fill="url(#g187)"/><path d="M988.3 391.3L1000.9 386.2L1009.2 392.0L996.6 397.1Z" fill="#484bee"/><path d="M789.1 421.1L797.5 426.9L797.5 293.1L789.1 287.4ZM797.5 426.9L810.1 421.8L810.1 288.0L797.5 293.1Z" fill="url(#g188)"/><path d="M789.1 287.4L801.7 282.3L810.1 288.0L797.5 293.1Z" fill="#70c5ae"/><path d="M1014.5 421.6L1022.8 427.3L1022.8 337.7L1014.5 331.9ZM1022.8 427.3L1035.4 422.2L1035.4 332.6L1022.8 337.7Z" fill="url(#g189)"/><path d="M1014.5 331.9L1027.1 326.8L1035.4 332.6L1022.8 337.7Z" fill="#599ee8"/><path d="M815.3 422.0L823.7 427.8L823.7 380.0L815.3 374.2ZM823.7 427.8L836.3 422.7L836.3 374.9L823.7 380.0Z" fill="url(#g190)"/><path d="M815.3 374.2L827.9 369.1L836.3 374.9L823.7 380.0Z" fill="#4c5ff6"/><path d="M1040.7 422.4L1049.0 428.2L1049.0 395.1L1040.7 389.3ZM1049.0 428.2L1061.6 423.1L1061.6 390.0L1049.0 395.1Z" fill="url(#g191)"/><path d="M1040.7 389.3L1053.3 384.2L1061.6 390.0L1049.0 395.1Z" fill="#494ef0"/><path d="M841.5 422.8L854.1 417.7L862.5 423.5L849.9 428.6Z" fill="#4034dc"/><path d="M1066.9 423.3L1075.2 429.0L1075.2 282.0L1066.9 276.3ZM1075.2 429.0L1087.8 423.9L1087.8 276.9L1075.2 282.0Z" fill="url(#g192)"/><path d="M1066.9 276.3L1079.5 271.2L1087.8 276.9L1075.2 282.0Z" fill="#84ca8c"/><path d="M867.7 423.7L880.3 418.6L888.7 424.4L876.1 429.5Z" fill="#4034dc"/><path d="M1093.1 424.1L1101.4 429.9L1101.4 415.2L1093.1 409.4ZM1101.4 429.9L1114.0 424.8L1114.0 410.1L1101.4 415.2Z" fill="url(#g193)"/><path d="M1093.1 409.4L1105.7 404.3L1114.0 410.1L1101.4 415.2Z" fill="#433ee6"/><path d="M893.9 424.5L902.3 430.3L902.3 342.1L893.9 336.3ZM902.3 430.3L914.9 425.2L914.9 337.0L902.3 342.1Z" fill="url(#g194)"/><path d="M893.9 336.3L906.5 331.2L914.9 337.0L902.3 342.1Z" fill="#599ce9"/><path d="M1119.3 425.0L1127.6 430.7L1127.6 327.8L1119.3 322.1ZM1127.6 430.7L1140.2 425.6L1140.2 322.7L1127.6 327.8Z" fill="url(#g195)"/><path d="M1119.3 322.1L1131.9 317.0L1140.2 322.7L1127.6 327.8Z" fill="#5fafda"/><path d="M920.1 425.4L932.7 420.3L941.1 426.1L928.5 431.2Z" fill="#4034dc"/><path d="M1145.5 425.8L1153.8 431.6L1153.8 398.5L1145.5 392.7ZM1153.8 431.6L1166.4 426.5L1166.4 393.4L1153.8 398.5Z" fill="url(#g196)"/><path d="M1145.5 392.7L1158.1 387.6L1166.4 393.4L1153.8 398.5Z" fill="#494ef0"/><path d="M946.3 426.2L958.9 421.1L967.3 426.9L954.7 432.0Z" fill="#4034dc"/><path d="M1171.7 426.7L1180.0 432.4L1180.0 399.4L1171.7 393.6ZM1180.0 432.4L1192.6 427.3L1192.6 394.3L1180.0 399.4Z" fill="url(#g197)"/><path d="M1171.7 393.6L1184.3 388.5L1192.6 394.3L1180.0 399.4Z" fill="#494ef0"/><path d="M972.5 427.1L985.1 422.0L993.5 427.8L980.9 432.9Z" fill="#4034dc"/><path d="M1197.9 427.5L1206.2 433.3L1206.2 342.9L1197.9 337.1ZM1206.2 433.3L1218.8 428.2L1218.8 337.8L1206.2 342.9Z" fill="url(#g198)"/><path d="M1197.9 337.1L1210.5 332.0L1218.8 337.8L1206.2 342.9Z" fill="#5a9fe7"/><path d="M998.7 427.9L1007.1 433.7L1007.1 419.0L998.7 413.2ZM1007.1 433.7L1019.7 428.6L1019.7 413.9L1007.1 419.0Z" fill="url(#g199)"/><path d="M998.7 413.2L1011.3 408.1L1019.7 413.9L1007.1 419.0Z" fill="#433ee6"/><path d="M799.6 428.3L808.0 434.1L808.0 356.9L799.6 351.2ZM808.0 434.1L820.6 429.0L820.6 351.8L808.0 356.9Z" fill="url(#g200)"/><path d="M799.6 351.2L812.2 346.1L820.6 351.8L808.0 356.9Z" fill="#5588f1"/><path d="M1024.9 428.8L1033.3 434.6L1033.3 401.5L1024.9 395.7ZM1033.3 434.6L1045.9 429.5L1045.9 396.4L1033.3 401.5Z" fill="url(#g201)"/><path d="M1024.9 395.7L1037.5 390.6L1045.9 396.4L1033.3 401.5Z" fill="#494ef0"/><path d="M825.8 429.2L834.2 435.0L834.2 357.8L825.8 352.0ZM834.2 435.0L846.8 429.9L846.8 352.7L834.2 357.8Z" fill="url(#g202)"/><path d="M825.8 352.0L838.4 346.9L846.8 352.7L834.2 357.8Z" fill="#5588f1"/><path d="M1051.1 429.6L1059.5 435.4L1059.5 319.3L1051.1 313.5ZM1059.5 435.4L1072.1 430.3L1072.1 314.2L1059.5 319.3Z" fill="url(#g203)"/><path d="M1051.1 313.5L1063.7 308.4L1072.1 314.2L1059.5 319.3Z" fill="#64bcca"/><path d="M852.0 430.0L860.4 435.8L860.4 406.4L852.0 400.6ZM860.4 435.8L873.0 430.7L873.0 401.3L860.4 406.4Z" fill="url(#g204)"/><path d="M852.0 400.6L864.6 395.5L873.0 401.3L860.4 406.4Z" fill="#484bee"/><path d="M1077.3 430.5L1085.7 436.3L1085.7 359.1L1077.3 353.3ZM1085.7 436.3L1098.3 431.2L1098.3 354.0L1085.7 359.1Z" fill="url(#g205)"/><path d="M1077.3 353.3L1089.9 348.2L1098.3 354.0L1085.7 359.1Z" fill="#5588f1"/><path d="M878.2 430.9L886.6 436.7L886.6 385.2L878.2 379.4ZM886.6 436.7L899.2 431.6L899.2 380.1L886.6 385.2Z" fill="url(#g206)"/><path d="M878.2 379.4L890.8 374.3L899.2 380.1L886.6 385.2Z" fill="#4d64f7"/><path d="M1103.5 431.3L1111.9 437.1L1111.9 334.2L1103.5 328.4ZM1111.9 437.1L1124.5 432.0L1124.5 329.1L1111.9 334.2Z" fill="url(#g207)"/><path d="M1103.5 328.4L1116.1 323.3L1124.5 329.1L1111.9 334.2Z" fill="#5fafda"/><path d="M904.4 431.7L912.8 437.5L912.8 315.5L904.4 309.7ZM912.8 437.5L925.4 432.4L925.4 310.4L912.8 315.5Z" fill="url(#g208)"/><path d="M904.4 309.7L917.0 304.6L925.4 310.4L912.8 315.5Z" fill="#67c0c2"/><path d="M1129.7 432.2L1142.3 427.1L1150.7 432.9L1138.1 438.0Z" fill="#4034dc"/><path d="M930.6 432.6L939.0 438.4L939.0 390.6L930.6 384.8ZM939.0 438.4L951.6 433.3L951.6 385.5L939.0 390.6Z" fill="url(#g209)"/><path d="M930.6 384.8L943.2 379.7L951.6 385.5L939.0 390.6Z" fill="#4c5ff6"/><path d="M1155.9 433.0L1164.3 438.8L1164.3 324.9L1155.9 319.1ZM1164.3 438.8L1176.9 433.7L1176.9 319.8L1164.3 324.9Z" fill="url(#g210)"/><path d="M1155.9 319.1L1168.5 314.0L1176.9 319.8L1164.3 324.9Z" fill="#64bbcd"/><path d="M956.8 433.4L965.2 439.2L965.2 409.8L956.8 404.0ZM965.2 439.2L977.8 434.1L977.8 404.7L965.2 409.8Z" fill="url(#g211)"/><path d="M956.8 404.0L969.4 398.9L977.8 404.7L965.2 409.8Z" fill="#484bee"/><path d="M1182.1 433.9L1190.5 439.7L1190.5 410.3L1182.1 404.5ZM1190.5 439.7L1203.1 434.6L1203.1 405.2L1190.5 410.3Z" fill="url(#g212)"/><path d="M1182.1 404.5L1194.7 399.4L1203.1 405.2L1190.5 410.3Z" fill="#484bee"/><path d="M983.0 434.3L995.6 429.2L1004.0 435.0L991.4 440.1Z" fill="#4034dc"/><path d="M1208.3 434.7L1220.9 429.6L1229.3 435.4L1216.7 440.5Z" fill="#4034dc"/><path d="M1009.2 435.1L1017.6 440.9L1017.6 429.9L1009.2 424.1ZM1017.6 440.9L1030.2 435.8L1030.2 424.8L1017.6 429.9Z" fill="url(#g213)"/><path d="M1009.2 424.1L1021.8 419.0L1030.2 424.8L1017.6 429.9Z" fill="#423be3"/><path d="M810.1 435.6L818.4 441.3L818.4 397.2L810.1 391.5ZM818.4 441.3L831.0 436.2L831.0 392.1L818.4 397.2Z" fill="url(#g214)"/><path d="M810.1 391.5L822.7 386.4L831.0 392.1L818.4 397.2Z" fill="#4c5bf4"/><path d="M1035.4 436.0L1048.0 430.9L1056.4 436.7L1043.8 441.8Z" fill="#4034dc"/><path d="M836.3 436.4L844.6 442.2L844.6 420.1L836.3 414.4ZM844.6 442.2L857.2 437.1L857.2 415.0L844.6 420.1Z" fill="url(#g215)"/><path d="M836.3 414.4L848.9 409.3L857.2 415.0L844.6 420.1Z" fill="#4544ea"/><path d="M1061.6 436.8L1074.2 431.7L1082.6 437.5L1070.0 442.6Z" fill="#4034dc"/><path d="M862.5 437.3L870.8 443.0L870.8 351.2L862.5 345.4ZM870.8 443.0L883.4 437.9L883.4 346.1L870.8 351.2Z" fill="url(#g216)"/><path d="M862.5 345.4L875.1 340.3L883.4 346.1L870.8 351.2Z" fill="#5aa2e6"/><path d="M1087.8 437.7L1096.2 443.5L1096.2 370.0L1087.8 364.2ZM1096.2 443.5L1108.8 438.4L1108.8 364.9L1096.2 370.0Z" fill="url(#g217)"/><path d="M1087.8 364.2L1100.4 359.1L1108.8 364.9L1096.2 370.0Z" fill="#5482f4"/><path d="M888.7 438.1L901.3 433.0L909.6 438.8L897.0 443.9Z" fill="#4034dc"/><path d="M1114.0 438.5L1122.4 444.3L1122.4 418.6L1114.0 412.8ZM1122.4 444.3L1135.0 439.2L1135.0 413.5L1122.4 418.6Z" fill="url(#g218)"/><path d="M1114.0 412.8L1126.6 407.7L1135.0 413.5L1122.4 418.6Z" fill="#4647ec"/><path d="M914.9 439.0L923.2 444.7L923.2 426.4L914.9 420.6ZM923.2 444.7L935.8 439.6L935.8 421.3L923.2 426.4Z" fill="url(#g219)"/><path d="M914.9 420.6L927.5 415.5L935.8 421.3L923.2 426.4Z" fill="#4440e8"/><path d="M1140.2 439.4L1148.6 445.2L1148.6 386.4L1140.2 380.6ZM1148.6 445.2L1161.2 440.1L1161.2 381.3L1148.6 386.4Z" fill="url(#g220)"/><path d="M1140.2 380.6L1152.8 375.5L1161.2 381.3L1148.6 386.4Z" fill="#4f6df7"/><path d="M941.1 439.8L949.4 445.6L949.4 353.7L941.1 347.9ZM949.4 445.6L962.0 440.5L962.0 348.6L949.4 353.7Z" fill="url(#g221)"/><path d="M941.1 347.9L953.7 342.8L962.0 348.6L949.4 353.7Z" fill="#5aa2e6"/><path d="M1166.4 440.2L1174.8 446.0L1174.8 367.4L1166.4 361.6ZM1174.8 446.0L1187.4 440.9L1187.4 362.3L1174.8 367.4Z" fill="url(#g222)"/><path d="M1166.4 361.6L1179.0 356.5L1187.4 362.3L1174.8 367.4Z" fill="#568bf0"/><path d="M967.3 440.7L979.9 435.6L988.2 441.3L975.6 446.4Z" fill="#4034dc"/><path d="M1192.6 441.1L1205.2 436.0L1213.6 441.8L1201.0 446.9Z" fill="#4034dc"/><path d="M993.5 441.5L1001.8 447.3L1001.8 359.1L993.5 353.3ZM1001.8 447.3L1014.4 442.2L1014.4 354.0L1001.8 359.1Z" fill="url(#g223)"/><path d="M993.5 353.3L1006.1 348.2L1014.4 354.0L1001.8 359.1Z" fill="#599ce9"/><path d="M1218.8 441.9L1231.4 436.8L1239.8 442.6L1227.2 447.7Z" fill="#4034dc"/><path d="M1019.7 442.4L1032.3 437.3L1040.6 443.0L1028.0 448.1Z" fill="#4034dc"/><path d="M820.5 442.8L833.1 437.7L841.5 443.5L828.9 448.6Z" fill="#4034dc"/><path d="M1045.9 443.2L1054.2 449.0L1054.2 434.3L1045.9 428.5ZM1054.2 449.0L1066.8 443.9L1066.8 429.2L1054.2 434.3Z" fill="url(#g224)"/><path d="M1045.9 428.5L1058.5 423.4L1066.8 429.2L1054.2 434.3Z" fill="#433ee6"/><path d="M846.7 443.6L859.3 438.5L867.7 444.3L855.1 449.4Z" fill="#4034dc"/><path d="M1072.1 444.1L1080.4 449.8L1080.4 424.1L1072.1 418.3ZM1080.4 449.8L1093.0 444.7L1093.0 419.0L1080.4 424.1Z" fill="url(#g225)"/><path d="M1072.1 418.3L1084.7 413.2L1093.0 419.0L1080.4 424.1Z" fill="#4647ec"/><path d="M872.9 444.5L881.3 450.3L881.3 360.6L872.9 354.8ZM881.3 450.3L893.9 445.2L893.9 355.5L881.3 360.6Z" fill="url(#g226)"/><path d="M872.9 354.8L885.5 349.7L893.9 355.5L881.3 360.6Z" fill="#599ee8"/><path d="M1098.3 444.9L1106.6 450.7L1106.6 410.3L1098.3 404.5ZM1106.6 450.7L1119.2 445.6L1119.2 405.2L1106.6 410.3Z" fill="url(#g227)"/><path d="M1098.3 404.5L1110.9 399.4L1119.2 405.2L1106.6 410.3Z" fill="#4b56f3"/><path d="M899.1 445.3L911.7 440.2L920.1 446.0L907.5 451.1Z" fill="#4034dc"/><path d="M1124.5 445.8L1132.8 451.5L1132.8 374.4L1124.5 368.6ZM1132.8 451.5L1145.4 446.4L1145.4 369.3L1132.8 374.4Z" fill="url(#g228)"/><path d="M1124.5 368.6L1137.1 363.5L1145.4 369.3L1132.8 374.4Z" fill="#5588f1"/><path d="M925.3 446.2L933.7 452.0L933.7 407.9L925.3 402.1ZM933.7 452.0L946.3 446.9L946.3 402.8L933.7 407.9Z" fill="url(#g229)"/><path d="M925.3 402.1L937.9 397.0L946.3 402.8L933.7 407.9Z" fill="#4c5bf4"/><path d="M1150.7 446.6L1159.0 452.4L1159.0 367.9L1150.7 362.1ZM1159.0 452.4L1171.6 447.3L1171.6 362.8L1159.0 367.9Z" fill="url(#g230)"/><path d="M1150.7 362.1L1163.3 357.0L1171.6 362.8L1159.0 367.9Z" fill="#5895ec"/><path d="M951.5 447.0L959.9 452.8L959.9 349.9L951.5 344.1ZM959.9 452.8L972.5 447.7L972.5 344.8L959.9 349.9Z" fill="url(#g231)"/><path d="M951.5 344.1L964.1 339.0L972.5 344.8L959.9 349.9Z" fill="#5fafda"/><path d="M1176.9 447.5L1185.2 453.2L1185.2 423.8L1176.9 418.1ZM1185.2 453.2L1197.8 448.1L1197.8 418.7L1185.2 423.8Z" fill="url(#g232)"/><path d="M1176.9 418.1L1189.5 413.0L1197.8 418.7L1185.2 423.8Z" fill="#484bee"/><path d="M977.7 447.9L990.3 442.8L998.7 448.6L986.1 453.7Z" fill="#4034dc"/><path d="M1203.1 448.3L1215.7 443.2L1224.0 449.0L1211.4 454.1Z" fill="#4034dc"/><path d="M1003.9 448.7L1012.3 454.5L1012.3 318.5L1003.9 312.8ZM1012.3 454.5L1024.9 449.4L1024.9 313.4L1012.3 318.5Z" fill="url(#g233)"/><path d="M1003.9 312.8L1016.5 307.7L1024.9 313.4L1012.3 318.5Z" fill="#72c6aa"/><path d="M1030.1 449.6L1042.7 444.5L1051.1 450.3L1038.5 455.4Z" fill="#4034dc"/><path d="M831.0 450.0L839.3 455.8L839.3 332.3L831.0 326.5ZM839.3 455.8L851.9 450.7L851.9 327.2L839.3 332.3Z" fill="url(#g234)"/><path d="M831.0 326.5L843.6 321.4L851.9 327.2L839.3 332.3Z" fill="#67c1c0"/><path d="M1056.3 450.4L1064.7 456.2L1064.7 426.8L1056.3 421.0ZM1064.7 456.2L1077.3 451.1L1077.3 421.7L1064.7 426.8Z" fill="url(#g235)"/><path d="M1056.3 421.0L1068.9 415.9L1077.3 421.7L1064.7 426.8Z" fill="#484bee"/><path d="M857.2 450.9L869.8 445.8L878.1 451.5L865.5 456.6Z" fill="#4034dc"/><path d="M1082.5 451.3L1090.9 457.1L1090.9 390.9L1082.5 385.1ZM1090.9 457.1L1103.5 452.0L1103.5 385.8L1090.9 390.9Z" fill="url(#g236)"/><path d="M1082.5 385.1L1095.1 380.0L1103.5 385.8L1090.9 390.9Z" fill="#5278f6"/><path d="M883.4 451.7L896.0 446.6L904.3 452.4L891.7 457.5Z" fill="#4034dc"/><path d="M1108.7 452.1L1117.1 457.9L1117.1 399.1L1108.7 393.3ZM1117.1 457.9L1129.7 452.8L1129.7 394.0L1117.1 399.1Z" fill="url(#g237)"/><path d="M1108.7 393.3L1121.3 388.2L1129.7 394.0L1117.1 399.1Z" fill="#4f6df7"/><path d="M909.6 452.6L917.9 458.3L917.9 366.5L909.6 360.7ZM917.9 458.3L930.5 453.2L930.5 361.4L917.9 366.5Z" fill="url(#g238)"/><path d="M909.6 360.7L922.2 355.6L930.5 361.4L917.9 366.5Z" fill="#5aa2e6"/><path d="M1134.9 453.0L1143.3 458.8L1143.3 265.5L1134.9 259.7ZM1143.3 458.8L1155.9 453.7L1155.9 260.4L1143.3 265.5Z" fill="url(#g239)"/><path d="M1134.9 259.7L1147.5 254.6L1155.9 260.4L1143.3 265.5Z" fill="#e5c144"/><path d="M935.8 453.4L948.4 448.3L956.7 454.1L944.1 459.2Z" fill="#4034dc"/><path d="M1161.1 453.8L1173.7 448.7L1182.1 454.5L1169.5 459.6Z" fill="#4034dc"/><path d="M962.0 454.3L970.3 460.0L970.3 445.3L962.0 439.6ZM970.3 460.0L982.9 454.9L982.9 440.2L970.3 445.3Z" fill="url(#g240)"/><path d="M962.0 439.6L974.6 434.5L982.9 440.2L970.3 445.3Z" fill="#433ee6"/><path d="M1187.3 454.7L1199.9 449.6L1208.3 455.4L1195.7 460.5Z" fill="#4034dc"/><path d="M988.2 455.1L996.5 460.9L996.5 378.6L988.2 372.8ZM996.5 460.9L1009.1 455.8L1009.1 373.5L996.5 378.6Z" fill="url(#g241)"/><path d="M988.2 372.8L1000.8 367.7L1009.1 373.5L996.5 378.6Z" fill="#5791ed"/><path d="M1014.4 456.0L1022.7 461.7L1022.7 436.0L1014.4 430.2ZM1022.7 461.7L1035.3 456.6L1035.3 430.9L1022.7 436.0Z" fill="url(#g242)"/><path d="M1014.4 430.2L1027.0 425.1L1035.3 430.9L1022.7 436.0Z" fill="#4647ec"/><path d="M1040.6 456.8L1053.2 451.7L1061.5 457.5L1048.9 462.6Z" fill="#4034dc"/><path d="M841.4 457.2L854.0 452.1L862.4 457.9L849.8 463.0Z" fill="#4034dc"/><path d="M1066.8 457.7L1075.1 463.4L1075.1 408.3L1066.8 402.5ZM1075.1 463.4L1087.7 458.3L1087.7 403.2L1075.1 408.3Z" fill="url(#g243)"/><path d="M1066.8 402.5L1079.4 397.4L1087.7 403.2L1075.1 408.3Z" fill="#4e68f8"/><path d="M867.6 458.1L876.0 463.9L876.0 368.3L867.6 362.5ZM876.0 463.9L888.6 458.8L888.6 363.2L876.0 368.3Z" fill="url(#g244)"/><path d="M867.6 362.5L880.2 357.4L888.6 363.2L876.0 368.3Z" fill="#5ca6e2"/><path d="M1093.0 458.5L1101.3 464.3L1101.3 361.4L1093.0 355.6ZM1101.3 464.3L1113.9 459.2L1113.9 356.3L1101.3 361.4Z" fill="url(#g245)"/><path d="M1093.0 355.6L1105.6 350.5L1113.9 356.3L1101.3 361.4Z" fill="#5fafda"/><path d="M893.8 458.9L906.4 453.8L914.8 459.6L902.2 464.7Z" fill="#4034dc"/><path d="M1119.2 459.4L1131.8 454.3L1140.1 460.0L1127.5 465.1Z" fill="#4034dc"/><path d="M920.0 459.8L928.4 465.6L928.4 436.2L920.0 430.4ZM928.4 465.6L941.0 460.5L941.0 431.1L928.4 436.2Z" fill="url(#g246)"/><path d="M920.0 430.4L932.6 425.3L941.0 431.1L928.4 436.2Z" fill="#484bee"/><path d="M1145.4 460.2L1153.7 466.0L1153.7 326.3L1145.4 320.6ZM1153.7 466.0L1166.3 460.9L1166.3 321.2L1153.7 326.3Z" fill="url(#g247)"/><path d="M1145.4 320.6L1158.0 315.5L1166.3 321.2L1153.7 326.3Z" fill="#78c7a0"/><path d="M946.2 460.6L958.8 455.5L967.2 461.3L954.6 466.4Z" fill="#4034dc"/><path d="M1171.6 461.1L1179.9 466.8L1179.9 422.7L1171.6 417.0ZM1179.9 466.8L1192.5 461.7L1192.5 417.6L1179.9 422.7Z" fill="url(#g248)"/><path d="M1171.6 417.0L1184.2 411.9L1192.5 417.6L1179.9 422.7Z" fill="#4c5bf4"/><path d="M972.4 461.5L980.8 467.3L980.8 375.4L972.4 369.6ZM980.8 467.3L993.4 462.2L993.4 370.3L980.8 375.4Z" fill="url(#g249)"/><path d="M972.4 369.6L985.0 364.5L993.4 370.3L980.8 375.4Z" fill="#5aa2e6"/><path d="M998.6 462.3L1007.0 468.1L1007.0 431.4L998.6 425.6ZM1007.0 468.1L1019.6 463.0L1019.6 426.3L1007.0 431.4Z" fill="url(#g250)"/><path d="M998.6 425.6L1011.2 420.5L1019.6 426.3L1007.0 431.4Z" fill="#4a52f2"/><path d="M1024.8 463.2L1033.2 469.0L1033.2 439.6L1024.8 433.8ZM1033.2 469.0L1045.8 463.9L1045.8 434.5L1033.2 439.6Z" fill="url(#g251)"/><path d="M1024.8 433.8L1037.4 428.7L1045.8 434.5L1033.2 439.6Z" fill="#484bee"/><path d="M1051.0 464.0L1059.4 469.8L1059.4 366.9L1051.0 361.1ZM1059.4 469.8L1072.0 464.7L1072.0 361.8L1059.4 366.9Z" fill="url(#g252)"/><path d="M1051.0 361.1L1063.6 356.0L1072.0 361.8L1059.4 366.9Z" fill="#5fafda"/><path d="M851.9 464.4L864.5 459.3L872.9 465.1L860.3 470.2Z" fill="#4034dc"/><path d="M1077.2 464.9L1085.6 470.7L1085.6 404.5L1077.2 398.7ZM1085.6 470.7L1098.2 465.6L1098.2 399.4L1085.6 404.5Z" fill="url(#g253)"/><path d="M1077.2 398.7L1089.8 393.6L1098.2 399.4L1085.6 404.5Z" fill="#5278f6"/><path d="M878.1 465.3L890.7 460.2L899.1 466.0L886.5 471.1Z" fill="#4034dc"/><path d="M1103.4 465.7L1111.8 471.5L1111.8 387.0L1103.4 381.2ZM1111.8 471.5L1124.4 466.4L1124.4 381.9L1111.8 387.0Z" fill="url(#g254)"/><path d="M1103.4 381.2L1116.0 376.1L1124.4 381.9L1111.8 387.0Z" fill="#5895ec"/><path d="M904.3 466.1L912.7 471.9L912.7 369.0L904.3 363.2ZM912.7 471.9L925.3 466.8L925.3 363.9L912.7 369.0Z" fill="url(#g255)"/><path d="M904.3 363.2L916.9 358.1L925.3 363.9L912.7 369.0Z" fill="#5fafda"/><path d="M1129.6 466.6L1142.2 461.5L1150.6 467.3L1138.0 472.4Z" fill="#4034dc"/><path d="M930.5 467.0L938.9 472.8L938.9 391.9L930.5 386.1ZM938.9 472.8L951.5 467.7L951.5 386.8L938.9 391.9Z" fill="url(#g256)"/><path d="M930.5 386.1L943.1 381.0L951.5 386.8L938.9 391.9Z" fill="#568fee"/><path d="M1155.8 467.4L1164.2 473.2L1164.2 458.5L1155.8 452.7ZM1164.2 473.2L1176.8 468.1L1176.8 453.4L1164.2 458.5Z" fill="url(#g257)"/><path d="M1155.8 452.7L1168.4 447.6L1176.8 453.4L1164.2 458.5Z" fill="#433ee6"/><path d="M956.7 467.8L965.1 473.6L965.1 436.9L956.7 431.1ZM965.1 473.6L977.7 468.5L977.7 431.8L965.1 436.9Z" fill="url(#g258)"/><path d="M956.7 431.1L969.3 426.0L977.7 431.8L965.1 436.9Z" fill="#4a52f2"/><path d="M982.9 468.7L991.3 474.5L991.3 459.8L982.9 454.0ZM991.3 474.5L1003.9 469.4L1003.9 454.7L991.3 459.8Z" fill="url(#g259)"/><path d="M982.9 454.0L995.5 448.9L1003.9 454.7L991.3 459.8Z" fill="#433ee6"/><path d="M1009.1 469.5L1017.5 475.3L1017.5 431.2L1009.1 425.4ZM1017.5 475.3L1030.1 470.2L1030.1 426.1L1017.5 431.2Z" fill="url(#g260)"/><path d="M1009.1 425.4L1021.7 420.3L1030.1 426.1L1017.5 431.2Z" fill="#4c5bf4"/><path d="M1035.3 470.4L1047.9 465.3L1056.3 471.1L1043.7 476.2Z" fill="#4034dc"/><path d="M1061.5 471.2L1069.9 477.0L1069.9 466.0L1061.5 460.2ZM1069.9 477.0L1082.5 471.9L1082.5 460.9L1069.9 466.0Z" fill="url(#g261)"/><path d="M1061.5 460.2L1074.1 455.1L1082.5 460.9L1069.9 466.0Z" fill="#423be3"/><path d="M862.4 471.7L875.0 466.6L883.3 472.3L870.7 477.4Z" fill="#4034dc"/><path d="M1087.7 472.1L1096.1 477.9L1096.1 334.5L1087.7 328.8ZM1096.1 477.9L1108.7 472.8L1108.7 329.4L1096.1 334.5Z" fill="url(#g262)"/><path d="M1087.7 328.8L1100.3 323.7L1108.7 329.4L1096.1 334.5Z" fill="#7ec996"/><path d="M888.6 472.5L901.2 467.4L909.5 473.2L896.9 478.3Z" fill="#4034dc"/><path d="M1113.9 472.9L1122.3 478.7L1122.3 337.6L1113.9 331.8ZM1122.3 478.7L1134.9 473.6L1134.9 332.5L1122.3 337.6Z" fill="url(#g263)"/><path d="M1113.9 331.8L1126.5 326.7L1134.9 332.5L1122.3 337.6Z" fill="#7ac89c"/><path d="M914.8 473.4L927.4 468.3L935.7 474.0L923.1 479.1Z" fill="#4034dc"/><path d="M1140.1 473.8L1148.5 479.6L1148.5 338.5L1140.1 332.7ZM1148.5 479.6L1161.1 474.5L1161.1 333.4L1148.5 338.5Z" fill="url(#g264)"/><path d="M1140.1 332.7L1152.7 327.6L1161.1 333.4L1148.5 338.5Z" fill="#7ac89c"/><path d="M941.0 474.2L953.6 469.1L961.9 474.9L949.3 480.0Z" fill="#4034dc"/><path d="M967.2 475.1L979.8 470.0L988.1 475.7L975.5 480.8Z" fill="#4034dc"/><path d="M993.4 475.9L1006.0 470.8L1014.3 476.6L1001.7 481.7Z" fill="#4034dc"/><path d="M1019.6 476.8L1027.9 482.5L1027.9 379.6L1019.6 373.9ZM1027.9 482.5L1040.5 477.4L1040.5 374.5L1027.9 379.6Z" fill="url(#g265)"/><path d="M1019.6 373.9L1032.2 368.8L1040.5 374.5L1027.9 379.6Z" fill="#5fafda"/><path d="M1045.8 477.6L1058.4 472.5L1066.7 478.3L1054.1 483.4Z" fill="#4034dc"/><path d="M1072.0 478.5L1080.3 484.2L1080.3 340.9L1072.0 335.1ZM1080.3 484.2L1092.9 479.1L1092.9 335.8L1080.3 340.9Z" fill="url(#g266)"/><path d="M1072.0 335.1L1084.6 330.0L1092.9 335.8L1080.3 340.9Z" fill="#7ec996"/><path d="M872.8 478.9L885.4 473.8L893.8 479.6L881.2 484.7Z" fill="#4034dc"/><path d="M1098.2 479.3L1110.8 474.2L1119.1 480.0L1106.5 485.1Z" fill="#4034dc"/><path d="M899.0 479.7L907.4 485.5L907.4 459.8L899.0 454.0ZM907.4 485.5L920.0 480.4L920.0 454.7L907.4 459.8Z" fill="url(#g267)"/><path d="M899.0 454.0L911.6 448.9L920.0 454.7L907.4 459.8Z" fill="#4647ec"/><path d="M1124.4 480.2L1132.7 485.9L1132.7 455.8L1124.4 450.0ZM1132.7 485.9L1145.3 480.8L1145.3 450.7L1132.7 455.8Z" fill="url(#g268)"/><path d="M1124.4 450.0L1137.0 444.9L1145.3 450.7L1132.7 455.8Z" fill="#484cee"/><path d="M925.2 480.6L937.8 475.5L946.2 481.3L933.6 486.4Z" fill="#4034dc"/><path d="M951.4 481.4L959.8 487.2L959.8 329.9L951.4 324.1ZM959.8 487.2L972.4 482.1L972.4 324.8L959.8 329.9Z" fill="url(#g269)"/><path d="M951.4 324.1L964.0 319.0L972.4 324.8L959.8 329.9Z" fill="#9acd6d"/><path d="M977.6 482.3L990.2 477.2L998.6 483.0L986.0 488.1Z" fill="#4034dc"/><path d="M1003.8 483.1L1016.4 478.0L1024.8 483.8L1012.2 488.9Z" fill="#4034dc"/><path d="M1030.0 484.0L1038.4 489.8L1038.4 434.6L1030.0 428.9ZM1038.4 489.8L1051.0 484.7L1051.0 429.5L1038.4 434.6Z" fill="url(#g270)"/><path d="M1030.0 428.9L1042.6 423.8L1051.0 429.5L1038.4 434.6Z" fill="#4e68f8"/><path d="M1056.2 484.8L1064.6 490.6L1064.6 391.4L1056.2 385.6ZM1064.6 490.6L1077.2 485.5L1077.2 386.3L1064.6 391.4Z" fill="url(#g271)"/><path d="M1056.2 385.6L1068.8 380.5L1077.2 386.3L1064.6 391.4Z" fill="#5dabde"/><path d="M1082.4 485.7L1090.8 491.5L1090.8 388.6L1082.4 382.8ZM1090.8 491.5L1103.4 486.4L1103.4 383.5L1090.8 388.6Z" fill="url(#g272)"/><path d="M1082.4 382.8L1095.0 377.7L1103.4 383.5L1090.8 388.6Z" fill="#5fafda"/><path d="M883.3 486.1L891.6 491.9L891.6 355.9L883.3 350.1ZM891.6 491.9L904.2 486.8L904.2 350.8L891.6 355.9Z" fill="url(#g273)"/><path d="M883.3 350.1L895.9 345.0L904.2 350.8L891.6 355.9Z" fill="#72c6aa"/><path d="M1108.6 486.5L1117.0 492.3L1117.0 290.9L1108.6 285.1ZM1117.0 492.3L1129.6 487.2L1129.6 285.8L1117.0 290.9Z" fill="url(#g274)"/><path d="M1108.6 285.1L1121.2 280.0L1129.6 285.8L1117.0 290.9Z" fill="#edc246"/><path d="M909.5 487.0L917.8 492.7L917.8 410.4L909.5 404.6ZM917.8 492.7L930.4 487.6L930.4 405.3L917.8 410.4Z" fill="url(#g275)"/><path d="M909.5 404.6L922.1 399.5L930.4 405.3L917.8 410.4Z" fill="#5791ed"/><path d="M935.7 487.8L944.0 493.6L944.0 359.8L935.7 354.0ZM944.0 493.6L956.6 488.5L956.6 354.7L944.0 359.8Z" fill="url(#g276)"/><path d="M935.7 354.0L948.3 348.9L956.6 354.7L944.0 359.8Z" fill="#70c5ae"/><path d="M961.9 488.7L974.5 483.6L982.8 489.3L970.2 494.4Z" fill="#4034dc"/><path d="M988.1 489.5L996.4 495.3L996.4 407.1L988.1 401.3ZM996.4 495.3L1009.0 490.2L1009.0 402.0L996.4 407.1Z" fill="url(#g277)"/><path d="M988.1 401.3L1000.7 396.2L1009.0 402.0L996.4 407.1Z" fill="#599ce9"/><path d="M1014.3 490.4L1022.6 496.1L1022.6 363.8L1014.3 358.1ZM1022.6 496.1L1035.2 491.0L1035.2 358.7L1022.6 363.8Z" fill="url(#g278)"/><path d="M1014.3 358.1L1026.9 353.0L1035.2 358.7L1022.6 363.8Z" fill="#6fc5b1"/><path d="M1040.5 491.2L1048.8 497.0L1048.8 325.7L1040.5 320.0ZM1048.8 497.0L1061.4 491.9L1061.4 320.6L1048.8 325.7Z" fill="url(#g279)"/><path d="M1040.5 320.0L1053.1 314.9L1061.4 320.6L1048.8 325.7Z" fill="#b9cc51"/><path d="M1066.7 492.1L1079.3 487.0L1087.6 492.7L1075.0 497.8Z" fill="#4034dc"/><path d="M1092.9 492.9L1101.2 498.7L1101.2 366.4L1092.9 360.6ZM1101.2 498.7L1113.8 493.6L1113.8 361.3L1101.2 366.4Z" fill="url(#g280)"/><path d="M1092.9 360.6L1105.5 355.5L1113.8 361.3L1101.2 366.4Z" fill="#6fc5b1"/><path d="M893.7 493.3L906.3 488.2L914.7 494.0L902.1 499.1Z" fill="#4034dc"/><path d="M919.9 494.2L928.3 500.0L928.3 345.6L919.9 339.8ZM928.3 500.0L940.9 494.9L940.9 340.5L928.3 345.6Z" fill="url(#g281)"/><path d="M919.9 339.8L932.5 334.7L940.9 340.5L928.3 345.6Z" fill="#94cc76"/><path d="M946.1 495.0L954.5 500.8L954.5 415.5L946.1 409.8ZM954.5 500.8L967.1 495.7L967.1 410.4L954.5 415.5Z" fill="url(#g282)"/><path d="M946.1 409.8L958.7 404.7L967.1 410.4L954.5 415.5Z" fill="#5896eb"/><path d="M972.3 495.9L980.7 501.7L980.7 472.3L972.3 466.5ZM980.7 501.7L993.3 496.6L993.3 467.2L980.7 472.3Z" fill="url(#g283)"/><path d="M972.3 466.5L984.9 461.4L993.3 467.2L980.7 472.3Z" fill="#484bee"/><path d="M998.5 496.7L1011.1 491.6L1019.5 497.4L1006.9 502.5Z" fill="#4034dc"/><path d="M1024.7 497.6L1033.1 503.4L1033.1 485.0L1024.7 479.2ZM1033.1 503.4L1045.7 498.3L1045.7 479.9L1033.1 485.0Z" fill="url(#g284)"/><path d="M1024.7 479.2L1037.3 474.1L1045.7 479.9L1033.1 485.0Z" fill="#4440e8"/><path d="M1050.9 498.4L1063.5 493.3L1071.9 499.1L1059.3 504.2Z" fill="#4034dc"/><path d="M1077.1 499.3L1085.5 505.1L1085.5 299.3L1077.1 293.5ZM1085.5 505.1L1098.1 500.0L1098.1 294.2L1085.5 299.3Z" fill="url(#g285)"/><path d="M1077.1 293.5L1089.7 288.4L1098.1 294.2L1085.5 299.3Z" fill="#f0c347"/><path d="M904.2 500.5L912.6 506.3L912.6 414.4L904.2 408.7ZM912.6 506.3L925.2 501.2L925.2 409.4L912.6 414.4Z" fill="url(#g286)"/><path d="M904.2 408.7L916.8 403.6L925.2 409.4L912.6 414.4Z" fill="#5aa2e6"/><path d="M930.4 501.4L938.8 507.2L938.8 481.4L930.4 475.7ZM938.8 507.2L951.4 502.1L951.4 476.3L938.8 481.4Z" fill="url(#g287)"/><path d="M930.4 475.7L943.0 470.6L951.4 476.3L938.8 481.4Z" fill="#4647ec"/><path d="M956.6 502.2L965.0 508.0L965.0 421.3L956.6 415.5ZM965.0 508.0L977.6 502.9L977.6 416.2L965.0 421.3Z" fill="url(#g288)"/><path d="M956.6 415.5L969.2 410.4L977.6 416.2L965.0 421.3Z" fill="#5899ea"/><path d="M982.8 503.1L991.2 508.9L991.2 406.0L982.8 400.2ZM991.2 508.9L1003.8 503.8L1003.8 400.9L991.2 406.0Z" fill="url(#g289)"/><path d="M982.8 400.2L995.4 395.1L1003.8 400.9L991.2 406.0Z" fill="#5fafda"/><path d="M1009.0 503.9L1017.4 509.7L1017.4 376.0L1009.0 370.2ZM1017.4 509.7L1030.0 504.6L1030.0 370.9L1017.4 376.0Z" fill="url(#g290)"/><path d="M1009.0 370.2L1021.6 365.1L1030.0 370.9L1017.4 376.0Z" fill="#70c5ae"/><path d="M1035.2 504.8L1043.6 510.6L1043.6 426.0L1035.2 420.3ZM1043.6 510.6L1056.2 505.5L1056.2 420.9L1043.6 426.0Z" fill="url(#g291)"/><path d="M1035.2 420.3L1047.8 415.2L1056.2 420.9L1043.6 426.0Z" fill="#5895ec"/><path d="M1061.4 505.6L1069.8 511.4L1069.8 441.6L1061.4 435.8ZM1069.8 511.4L1082.4 506.3L1082.4 436.5L1069.8 441.6Z" fill="url(#g292)"/><path d="M1061.4 435.8L1074.0 430.7L1082.4 436.5L1069.8 441.6Z" fill="#537df5"/><path d="M914.7 507.8L923.0 513.5L923.0 449.6L914.7 443.8ZM923.0 513.5L935.6 508.4L935.6 444.5L923.0 449.6Z" fill="url(#g293)"/><path d="M914.7 443.8L927.3 438.7L935.6 444.5L923.0 449.6Z" fill="#5174f6"/><path d="M940.9 508.6L949.2 514.4L949.2 427.7L940.9 421.9ZM949.2 514.4L961.8 509.3L961.8 422.6L949.2 427.7Z" fill="url(#g294)"/><path d="M940.9 421.9L953.5 416.8L961.8 422.6L949.2 427.7Z" fill="#5899ea"/><path d="M967.1 509.5L979.7 504.4L988.0 510.1L975.4 515.2Z" fill="#4034dc"/><path d="M993.3 510.3L1001.6 516.1L1001.6 413.2L993.3 407.4ZM1001.6 516.1L1014.2 511.0L1014.2 408.1L1001.6 413.2Z" fill="url(#g295)"/><path d="M993.3 407.4L1005.9 402.3L1014.2 408.1L1001.6 413.2Z" fill="#5fafda"/><path d="M1019.5 511.2L1032.1 506.1L1040.4 511.8L1027.8 516.9Z" fill="#4034dc"/><path d="M1045.7 512.0L1054.0 517.8L1054.0 445.8L1045.7 440.0ZM1054.0 517.8L1066.6 512.7L1066.6 440.7L1054.0 445.8Z" fill="url(#g296)"/><path d="M1045.7 440.0L1058.3 434.9L1066.6 440.7L1054.0 445.8Z" fill="#5480f4"/><path d="M925.1 515.0L933.5 520.8L933.5 417.9L925.1 412.1ZM933.5 520.8L946.1 515.7L946.1 412.8L933.5 417.9Z" fill="url(#g297)"/><path d="M925.1 412.1L937.7 407.0L946.1 412.8L933.5 417.9Z" fill="#5fafda"/><path d="M951.3 515.8L959.7 521.6L959.7 451.8L951.3 446.0ZM959.7 521.6L972.3 516.5L972.3 446.7L959.7 451.8Z" fill="url(#g298)"/><path d="M951.3 446.0L963.9 440.9L972.3 446.7L959.7 451.8Z" fill="#537df5"/><path d="M977.5 516.7L990.1 511.6L998.5 517.4L985.9 522.5Z" fill="#4034dc"/><path d="M1003.7 517.5L1016.3 512.4L1024.7 518.2L1012.1 523.3Z" fill="#4034dc"/><path d="M1029.9 518.4L1042.5 513.3L1050.9 519.1L1038.3 524.2Z" fill="#4034dc"/><path d="M935.6 522.2L943.9 528.0L943.9 449.3L935.6 443.6ZM943.9 528.0L956.5 522.9L956.5 444.2L943.9 449.3Z" fill="url(#g299)"/><path d="M935.6 443.6L948.2 438.5L956.5 444.2L943.9 449.3Z" fill="#568bf0"/><path d="M961.8 523.1L970.1 528.8L970.1 392.1L961.8 386.3ZM970.1 528.8L982.7 523.7L982.7 387.0L970.1 392.1Z" fill="url(#g300)"/><path d="M961.8 386.3L974.4 381.2L982.7 387.0L970.1 392.1Z" fill="#73c6a8"/><path d="M988.0 523.9L1000.6 518.8L1008.9 524.6L996.3 529.7Z" fill="#4034dc"/><path d="M1014.2 524.8L1022.5 530.5L1022.5 422.5L1014.2 416.7ZM1022.5 530.5L1035.1 525.4L1035.1 417.4L1022.5 422.5Z" fill="url(#g301)"/><path d="M1014.2 416.7L1026.8 411.6L1035.1 417.4L1022.5 422.5Z" fill="#61b5d4"/><path d="M946.0 529.4L954.4 535.2L954.4 515.4L946.0 509.6ZM954.4 535.2L967.0 530.1L967.0 510.3L954.4 515.4Z" fill="url(#g302)"/><path d="M946.0 509.6L958.6 504.5L967.0 510.3L954.4 515.4Z" fill="#4441e9"/><path d="M972.2 530.3L980.6 536.1L980.6 422.1L972.2 416.3ZM980.6 536.1L993.2 531.0L993.2 417.0L980.6 422.1Z" fill="url(#g303)"/><path d="M972.2 416.3L984.8 411.3L993.2 417.0L980.6 422.1Z" fill="#64bbcd"/><path d="M998.4 531.1L1006.8 536.9L1006.8 377.4L998.4 371.6ZM1006.8 536.9L1019.4 531.8L1019.4 372.3L1006.8 377.4Z" fill="url(#g304)"/><path d="M998.4 371.6L1011.0 366.5L1019.4 372.3L1006.8 377.4Z" fill="#9fcd67"/><path d="M956.5 536.6L964.9 542.4L964.9 513.0L956.5 507.2ZM964.9 542.4L977.5 537.3L977.5 507.9L964.9 513.0Z" fill="url(#g305)"/><path d="M956.5 507.2L969.1 502.1L977.5 507.9L964.9 513.0Z" fill="#484bee"/><path d="M982.7 537.5L991.1 543.3L991.1 458.7L982.7 453.0ZM991.1 543.3L1003.7 538.2L1003.7 453.6L991.1 458.7Z" fill="url(#g306)"/><path d="M982.7 453.0L995.3 447.9L1003.7 453.6L991.1 458.7Z" fill="#5895ec"/><path d="M967.0 543.9L975.3 549.6L975.3 408.5L967.0 402.7ZM975.3 549.6L987.9 544.5L987.9 403.4L975.3 408.5Z" fill="url(#g307)"/><path d="M967.0 402.7L979.6 397.6L987.9 403.4L975.3 408.5Z" fill="#7ac89c"/></g></svg></body></html>
